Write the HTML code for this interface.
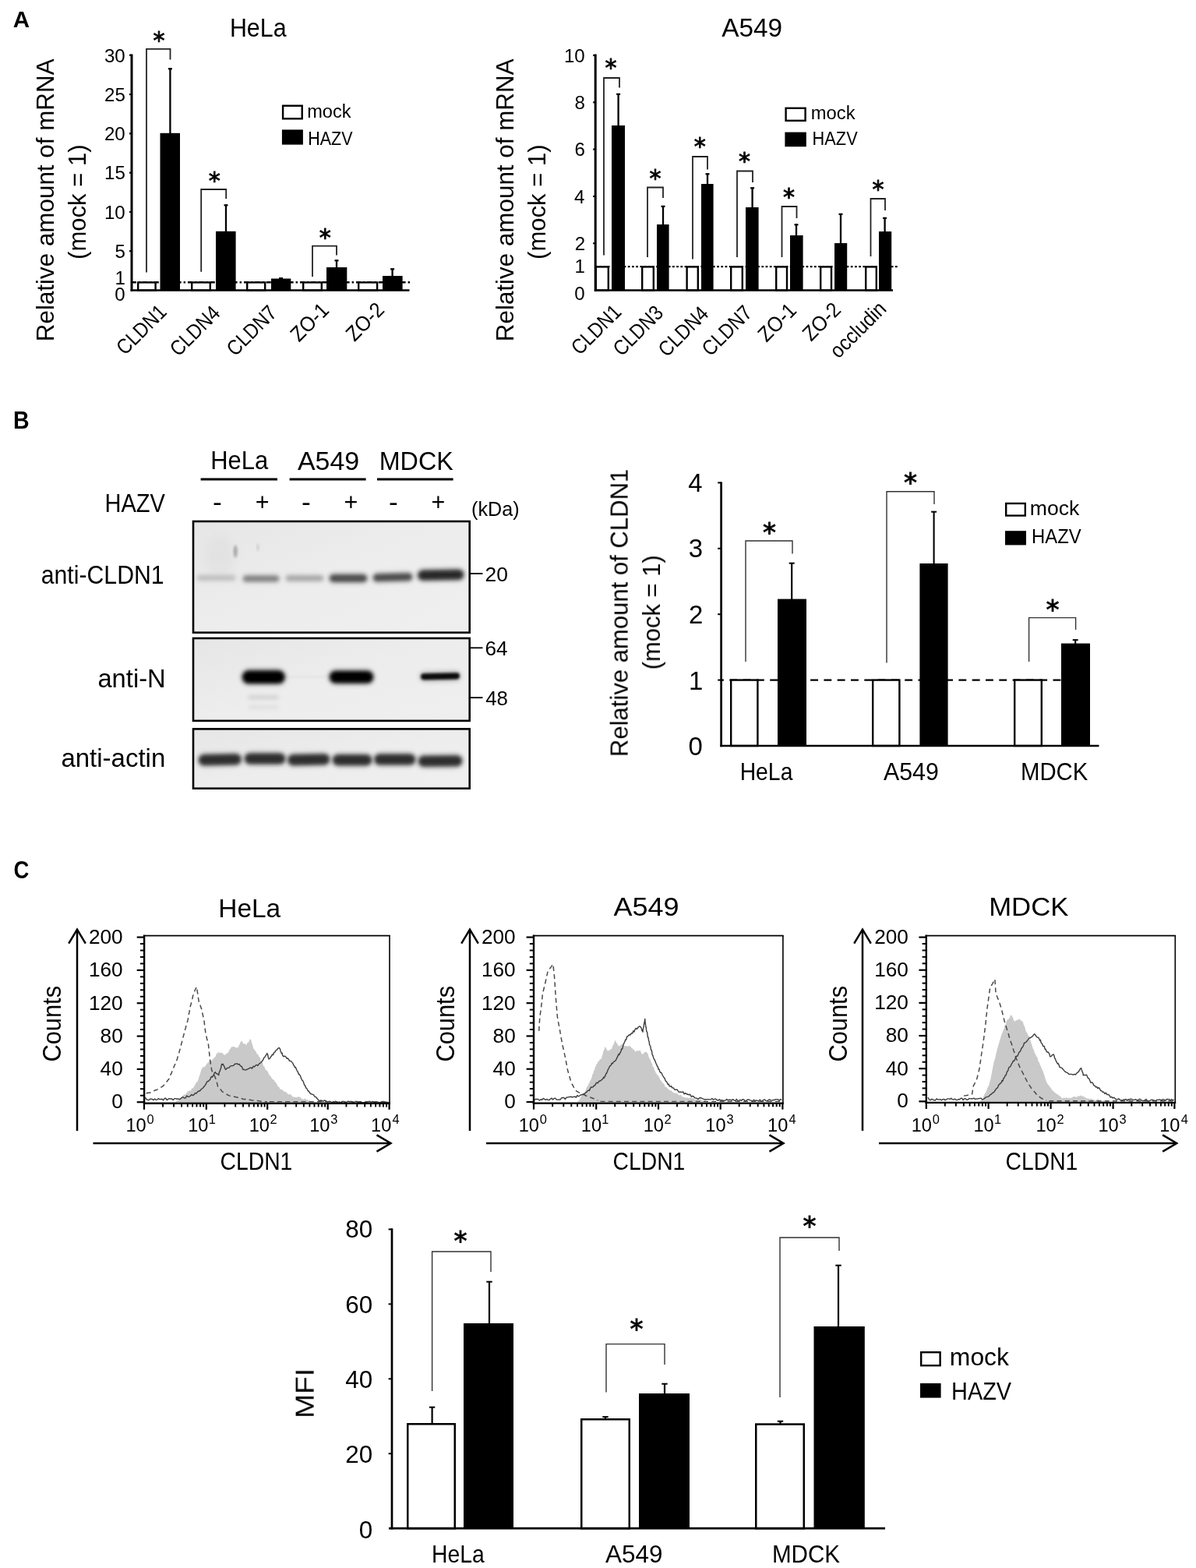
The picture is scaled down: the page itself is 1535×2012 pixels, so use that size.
<!DOCTYPE html>
<html lang="en"><head><meta charset="utf-8"><title>Figure</title>
<style>
html,body{margin:0;padding:0;background:#fff;}
svg{display:block;font-family:"Liberation Sans",sans-serif;}
</style></head>
<body>
<svg width="1535" height="2012" viewBox="0 0 1535 2012">
<defs><filter id="soft" x="0" y="0" width="1535" height="2012" filterUnits="userSpaceOnUse"><feGaussianBlur stdDeviation="0.55"/></filter></defs>
<rect width="1535" height="2012" fill="#fff"/>
<g filter="url(#soft)">
<text transform="translate(16.66 34.7) scale(0.9851 1)" font-size="30" font-weight="bold">A</text>
<text transform="translate(17.07 549.5) scale(0.9261 1)" font-size="30.8" font-weight="bold">B</text>
<text transform="translate(17.5 1126.8) scale(0.9010 1)" font-size="30.5" font-weight="bold">C</text>
<text transform="translate(294.89 47.4) scale(0.9163 1)" font-size="33.2">HeLa</text>
<text transform="translate(69.2 438.19) rotate(-90) scale(0.9965 1)" font-size="31.5">Relative amount of mRNA</text>
<text transform="translate(110.2 332.94) rotate(-90) scale(0.9870 1)" font-size="31.5">(mock = 1)</text>
<line x1="169" y1="362.24" x2="526" y2="362.24" stroke="#000" stroke-width="2.4" stroke-dasharray="6 3 2.4 3"/>
<rect x="177.2" y="362.4" width="22.4" height="10.1" fill="#fff" stroke="#000" stroke-width="2.4"/>
<rect x="205.5" y="170.8" width="25.5" height="201.7" fill="#000"/>
<line x1="218.4" y1="87.5" x2="218.4" y2="171.8" stroke="#000" stroke-width="2.3"/>
<line x1="215.9" y1="88.3" x2="220.9" y2="88.3" stroke="#000" stroke-width="2.2"/>
<rect x="246.2" y="362.4" width="23.6" height="10.1" fill="#fff" stroke="#000" stroke-width="2.4"/>
<rect x="277" y="296.8" width="25.6" height="75.7" fill="#000"/>
<line x1="290" y1="262.5" x2="290" y2="297.8" stroke="#000" stroke-width="2.3"/>
<line x1="287.5" y1="263.3" x2="292.5" y2="263.3" stroke="#000" stroke-width="2.2"/>
<rect x="317.2" y="362.4" width="23" height="10.1" fill="#fff" stroke="#000" stroke-width="2.4"/>
<rect x="348" y="357.5" width="25.3" height="15" fill="#000"/>
<line x1="360.5" y1="356.3" x2="360.5" y2="358.5" stroke="#000" stroke-width="2.3"/>
<line x1="358" y1="357.1" x2="363" y2="357.1" stroke="#000" stroke-width="2.2"/>
<rect x="389.2" y="362.4" width="23.6" height="10.1" fill="#fff" stroke="#000" stroke-width="2.4"/>
<rect x="419" y="343" width="26.3" height="29.5" fill="#000"/>
<line x1="432" y1="333.5" x2="432" y2="344" stroke="#000" stroke-width="2.3"/>
<line x1="429.5" y1="334.3" x2="434.5" y2="334.3" stroke="#000" stroke-width="2.2"/>
<rect x="460.2" y="362.4" width="23.9" height="10.1" fill="#fff" stroke="#000" stroke-width="2.4"/>
<rect x="491" y="354" width="25.6" height="18.5" fill="#000"/>
<line x1="503.6" y1="344.5" x2="503.6" y2="355" stroke="#000" stroke-width="2.3"/>
<line x1="501.1" y1="345.3" x2="506.1" y2="345.3" stroke="#000" stroke-width="2.2"/>
<line x1="169" y1="69.6" x2="169" y2="373.7" stroke="#000" stroke-width="3"/>
<line x1="167.7" y1="372.5" x2="525.5" y2="372.5" stroke="#000" stroke-width="2.6"/>
<line x1="166" y1="70.8" x2="169" y2="70.8" stroke="#000" stroke-width="2.2"/>
<line x1="166" y1="121.08" x2="169" y2="121.08" stroke="#000" stroke-width="2.2"/>
<line x1="166" y1="171.37" x2="169" y2="171.37" stroke="#000" stroke-width="2.2"/>
<line x1="166" y1="221.65" x2="169" y2="221.65" stroke="#000" stroke-width="2.2"/>
<line x1="166" y1="271.93" x2="169" y2="271.93" stroke="#000" stroke-width="2.2"/>
<line x1="166" y1="322.22" x2="169" y2="322.22" stroke="#000" stroke-width="2.2"/>
<text transform="translate(133.94 79.6) scale(0.9800 1)" font-size="24.6">30</text>
<text transform="translate(134 129.88) scale(0.9800 1)" font-size="24.6">25</text>
<text transform="translate(133.94 180.17) scale(0.9800 1)" font-size="24.6">20</text>
<text transform="translate(134 230.45) scale(0.9800 1)" font-size="24.6">15</text>
<text transform="translate(133.94 280.73) scale(0.9800 1)" font-size="24.6">10</text>
<text transform="translate(147.38 331.02) scale(0.9800 1)" font-size="24.6">5</text>
<text transform="translate(147.57 365) scale(0.9800 1)" font-size="24.6">1</text>
<text transform="translate(147.32 386.4) scale(0.9800 1)" font-size="24.6">0</text>
<path d="M188 349.5V62.8H218.5V76.5" fill="none" stroke="#222" stroke-width="1.8"/>
<text transform="translate(196.5 62.25)" font-size="30" font-family="DejaVu Sans" stroke="#000" stroke-width="0.9">*</text>
<path d="M258.2 348.8V243H290.2V255" fill="none" stroke="#222" stroke-width="1.8"/>
<text transform="translate(267.7 242.25)" font-size="30" font-family="DejaVu Sans" stroke="#000" stroke-width="0.9">*</text>
<path d="M401 355V315.6H432V327.5" fill="none" stroke="#222" stroke-width="1.8"/>
<text transform="translate(409.7 315.45)" font-size="30" font-family="DejaVu Sans" stroke="#000" stroke-width="0.9">*</text>
<rect x="363.1" y="135.7" width="24.6" height="16.6" fill="#fff" stroke="#000" stroke-width="2.4"/>
<rect x="361.9" y="166.4" width="27" height="19.2" fill="#000"/>
<text transform="translate(394.21 151) scale(0.9670 1)" font-size="24.4">mock</text>
<text transform="translate(395.23 185.6) scale(0.8800 1)" font-size="24.4">HAZV</text>
<text transform="translate(160.33 456.87) rotate(-45) scale(0.8800 1)" font-size="27">CLDN1</text>
<text transform="translate(228.9 458.6) rotate(-45) scale(0.8800 1)" font-size="27">CLDN4</text>
<text transform="translate(301.78 458.22) rotate(-45) scale(0.8800 1)" font-size="27">CLDN7</text>
<text transform="translate(383.83 439.77) rotate(-45) scale(0.9200 1)" font-size="27">ZO-1</text>
<text transform="translate(454.88 439.32) rotate(-45) scale(0.9200 1)" font-size="27">ZO-2</text>
<text transform="translate(926.22 47) scale(1.0060 1)" font-size="33.2">A549</text>
<text transform="translate(659.2 438.19) rotate(-90) scale(0.9965 1)" font-size="31.5">Relative amount of mRNA</text>
<text transform="translate(700.2 332.94) rotate(-90) scale(0.9870 1)" font-size="31.5">(mock = 1)</text>
<line x1="764.2" y1="342.15" x2="1153" y2="342.15" stroke="#000" stroke-width="2.4" stroke-dasharray="2.7 2.5"/>
<rect x="764.8" y="342.4" width="16" height="30.1" fill="#fff" stroke="#000" stroke-width="2.4"/>
<rect x="785" y="161" width="17" height="211.5" fill="#000"/>
<line x1="793.6" y1="120" x2="793.6" y2="162" stroke="#000" stroke-width="2.3"/>
<line x1="791.1" y1="120.8" x2="796.1" y2="120.8" stroke="#000" stroke-width="2.2"/>
<rect x="824.2" y="342.4" width="14.6" height="30.1" fill="#fff" stroke="#000" stroke-width="2.4"/>
<rect x="843" y="288" width="15.6" height="84.5" fill="#000"/>
<line x1="851" y1="264" x2="851" y2="289" stroke="#000" stroke-width="2.3"/>
<line x1="848.5" y1="264.8" x2="853.5" y2="264.8" stroke="#000" stroke-width="2.2"/>
<rect x="881.6" y="342.4" width="14.2" height="30.1" fill="#fff" stroke="#000" stroke-width="2.4"/>
<rect x="900" y="236" width="15.6" height="136.5" fill="#000"/>
<line x1="908" y1="222.5" x2="908" y2="237" stroke="#000" stroke-width="2.3"/>
<line x1="905.5" y1="223.3" x2="910.5" y2="223.3" stroke="#000" stroke-width="2.2"/>
<rect x="938.2" y="342.4" width="14.6" height="30.1" fill="#fff" stroke="#000" stroke-width="2.4"/>
<rect x="957" y="266" width="16.6" height="106.5" fill="#000"/>
<line x1="965.6" y1="240.5" x2="965.6" y2="267" stroke="#000" stroke-width="2.3"/>
<line x1="963.1" y1="241.3" x2="968.1" y2="241.3" stroke="#000" stroke-width="2.2"/>
<rect x="996.2" y="342.4" width="13.8" height="30.1" fill="#fff" stroke="#000" stroke-width="2.4"/>
<rect x="1014" y="302" width="16.6" height="70.5" fill="#000"/>
<line x1="1022" y1="287.5" x2="1022" y2="303" stroke="#000" stroke-width="2.3"/>
<line x1="1019.5" y1="288.3" x2="1024.5" y2="288.3" stroke="#000" stroke-width="2.2"/>
<rect x="1053.2" y="342.4" width="13.8" height="30.1" fill="#fff" stroke="#000" stroke-width="2.4"/>
<rect x="1071" y="312" width="16.2" height="60.5" fill="#000"/>
<line x1="1079" y1="274" x2="1079" y2="313" stroke="#000" stroke-width="2.3"/>
<line x1="1076.5" y1="274.8" x2="1081.5" y2="274.8" stroke="#000" stroke-width="2.2"/>
<rect x="1111.2" y="342.4" width="13.6" height="30.1" fill="#fff" stroke="#000" stroke-width="2.4"/>
<rect x="1128" y="297" width="16.2" height="75.5" fill="#000"/>
<line x1="1135.6" y1="279" x2="1135.6" y2="298" stroke="#000" stroke-width="2.3"/>
<line x1="1133.1" y1="279.8" x2="1138.1" y2="279.8" stroke="#000" stroke-width="2.2"/>
<line x1="764.2" y1="69.6" x2="764.2" y2="373.7" stroke="#000" stroke-width="3"/>
<line x1="762.9" y1="372.5" x2="1146" y2="372.5" stroke="#000" stroke-width="2.6"/>
<line x1="761.2" y1="71" x2="764.2" y2="71" stroke="#000" stroke-width="2.2"/>
<line x1="761.2" y1="131.3" x2="764.2" y2="131.3" stroke="#000" stroke-width="2.2"/>
<line x1="761.2" y1="191.6" x2="764.2" y2="191.6" stroke="#000" stroke-width="2.2"/>
<line x1="761.2" y1="251.9" x2="764.2" y2="251.9" stroke="#000" stroke-width="2.2"/>
<line x1="761.2" y1="312.2" x2="764.2" y2="312.2" stroke="#000" stroke-width="2.2"/>
<text transform="translate(723.94 79.8) scale(0.9800 1)" font-size="24.6">10</text>
<text transform="translate(737.44 140.1) scale(0.9800 1)" font-size="24.6">8</text>
<text transform="translate(737.44 200.4) scale(0.9800 1)" font-size="24.6">6</text>
<text transform="translate(737.08 260.7) scale(0.9800 1)" font-size="24.6">4</text>
<text transform="translate(737.63 321) scale(0.9800 1)" font-size="24.6">2</text>
<text transform="translate(737.57 350) scale(0.9800 1)" font-size="24.6">1</text>
<text transform="translate(737.32 385.4) scale(0.9800 1)" font-size="24.6">0</text>
<path d="M775 327.5V100H795V112.5" fill="none" stroke="#222" stroke-width="1.8"/>
<text transform="translate(776.5 96.95)" font-size="30" font-family="DejaVu Sans" stroke="#000" stroke-width="0.9">*</text>
<path d="M831 330V240.5H851V254" fill="none" stroke="#222" stroke-width="1.8"/>
<text transform="translate(833.5 238.95)" font-size="30" font-family="DejaVu Sans" stroke="#000" stroke-width="0.9">*</text>
<path d="M889 332.5V201H908V217.5" fill="none" stroke="#222" stroke-width="1.8"/>
<text transform="translate(890.7 198.45)" font-size="30" font-family="DejaVu Sans" stroke="#000" stroke-width="0.9">*</text>
<path d="M946 330V219.5H966V234" fill="none" stroke="#222" stroke-width="1.8"/>
<text transform="translate(948.1 216.95)" font-size="30" font-family="DejaVu Sans" stroke="#000" stroke-width="0.9">*</text>
<path d="M1003.5 330V265H1022.5V280" fill="none" stroke="#222" stroke-width="1.8"/>
<text transform="translate(1005.1 263.45)" font-size="30" font-family="DejaVu Sans" stroke="#000" stroke-width="0.9">*</text>
<path d="M1117.5 329V255H1136V270" fill="none" stroke="#222" stroke-width="1.8"/>
<text transform="translate(1119.5 252.95)" font-size="30" font-family="DejaVu Sans" stroke="#000" stroke-width="0.9">*</text>
<rect x="1008.6" y="138.8" width="25" height="16" fill="#fff" stroke="#000" stroke-width="2.4"/>
<rect x="1007.4" y="169.6" width="27.4" height="18.6" fill="#000"/>
<text transform="translate(1040.8 153.2) scale(0.9741 1)" font-size="24.4">mock</text>
<text transform="translate(1042.6 185.8) scale(0.8927 1)" font-size="24.4">HAZV</text>
<text transform="translate(743.93 456.87) rotate(-45) scale(0.8800 1)" font-size="27">CLDN1</text>
<text transform="translate(797.65 458.35) rotate(-45) scale(0.8800 1)" font-size="27">CLDN3</text>
<text transform="translate(855.8 459.2) rotate(-45) scale(0.8800 1)" font-size="27">CLDN4</text>
<text transform="translate(911.78 458.22) rotate(-45) scale(0.8800 1)" font-size="27">CLDN7</text>
<text transform="translate(983.83 439.97) rotate(-45) scale(0.9200 1)" font-size="27">ZO-1</text>
<text transform="translate(1040.88 439.12) rotate(-45) scale(0.9200 1)" font-size="27">ZO-2</text>
<text transform="translate(1076.1 460.9) rotate(-45) scale(0.9000 1)" font-size="27">occludin</text>
<defs><filter id="b1" x="-30%" y="-150%" width="160%" height="400%"><feGaussianBlur stdDeviation="1.7"/></filter><filter id="b2" x="-30%" y="-150%" width="160%" height="400%"><feGaussianBlur stdDeviation="2.6"/></filter><filter id="b3" x="-50%" y="-50%" width="200%" height="200%"><feGaussianBlur stdDeviation="6"/></filter><filter id="b4" x="-30%" y="-150%" width="160%" height="400%"><feGaussianBlur stdDeviation="3.6"/></filter><linearGradient id="bg1" x1="0" y1="0" x2="1" y2="1"><stop offset="0" stop-color="#e6e6e6"/><stop offset="0.5" stop-color="#ededed"/><stop offset="1" stop-color="#efefef"/></linearGradient><clipPath id="c1"><rect x="248" y="669" width="354.8" height="143"/></clipPath><clipPath id="c2"><rect x="248" y="819" width="354.8" height="106"/></clipPath><clipPath id="c3"><rect x="248" y="935.4" width="354.8" height="76.4"/></clipPath></defs>
<rect x="248" y="669" width="354.7" height="142.7" fill="url(#bg1)"/>
<rect x="248" y="819" width="354.7" height="105.9" fill="url(#bg1)"/>
<rect x="248" y="935.4" width="354.7" height="76.3" fill="url(#bg1)"/>
<g clip-path="url(#c1)">
<rect x="252" y="736.65" width="51" height="9.5" rx="4.75" ry="4.75" fill="#8a8a8a" opacity="0.11" filter="url(#b4)"/>
<rect x="253" y="738.15" width="49" height="6.5" rx="3.25" ry="3.25" fill="#8a8a8a" opacity="0.4" filter="url(#b2)"/>
<rect x="311" y="737.35" width="48" height="10.5" rx="5.25" ry="5.25" fill="#4a4a4a" opacity="0.17" filter="url(#b4)"/>
<rect x="312" y="738.85" width="46" height="7.5" rx="3.75" ry="3.75" fill="#4a4a4a" opacity="0.6" filter="url(#b2)"/>
<rect x="366" y="737" width="50" height="10" rx="5" ry="5" fill="#6a6a6a" opacity="0.13" filter="url(#b4)"/>
<rect x="367" y="738.5" width="48" height="7" rx="3.5" ry="3.5" fill="#6a6a6a" opacity="0.48" filter="url(#b2)"/>
<rect x="422" y="735.75" width="50" height="12.5" rx="6.25" ry="6.25" fill="#333" opacity="0.23" filter="url(#b4)"/>
<rect x="423" y="737.25" width="48" height="9.5" rx="4.75" ry="4.75" fill="#333" opacity="0.82" filter="url(#b2)"/>
<rect x="478" y="734.55" width="52" height="12.5" rx="6.25" ry="6.25" fill="#333" opacity="0.23" filter="url(#b4)" transform="rotate(-1.5 504 740.8)"/>
<rect x="479" y="736.05" width="50" height="9.5" rx="4.75" ry="4.75" fill="#333" opacity="0.82" filter="url(#b2)" transform="rotate(-1.5 504 740.8)"/>
<rect x="535.5" y="730.05" width="60.5" height="15.5" rx="7.75" ry="7.75" fill="#1c1c1c" opacity="0.26" filter="url(#b4)" transform="rotate(-1 565.75 737.8)"/>
<rect x="536.5" y="731.55" width="58.5" height="12.5" rx="6.25" ry="6.25" fill="#1c1c1c" opacity="0.93" filter="url(#b2)" transform="rotate(-1 565.75 737.8)"/>
<ellipse cx="302.2" cy="707.6" rx="2.6" ry="8" fill="#6a6a6a" opacity="0.5" filter="url(#b1)"/>
<ellipse cx="331" cy="702.5" rx="1.8" ry="5" fill="#999" opacity="0.3" filter="url(#b1)"/>
<ellipse cx="282" cy="714" rx="20" ry="26" fill="#c4c4c4" opacity="0.16" filter="url(#b3)"/>
</g>
<g clip-path="url(#c2)">
<rect x="310" y="859.05" width="56.5" height="19.5" rx="9.75" ry="9.75" fill="#050505" opacity="0.28" filter="url(#b4)"/>
<rect x="311" y="860.55" width="54.5" height="16.5" rx="8.25" ry="8.25" fill="#050505" opacity="1" filter="url(#b2)"/>
<rect x="422" y="859.55" width="58" height="18.5" rx="9.25" ry="9.25" fill="#050505" opacity="0.28" filter="url(#b4)"/>
<rect x="423" y="861.05" width="56" height="15.5" rx="7.75" ry="7.75" fill="#050505" opacity="1" filter="url(#b2)"/>
<rect x="539" y="862.2" width="52" height="11.2" rx="5.6" ry="5.6" fill="#0a0a0a" opacity="0.28" filter="url(#b4)" transform="rotate(-1.2 565 867.8)"/>
<rect x="540" y="863.7" width="50" height="8.2" rx="4.1" ry="4.1" fill="#0a0a0a" opacity="1" filter="url(#b1)" transform="rotate(-1.2 565 867.8)"/>
<rect x="368" y="867.1" width="54" height="3" rx="1.5" ry="1.5" fill="#bbb" opacity="0.15" filter="url(#b1)"/>
<rect x="318" y="892.05" width="40" height="5.5" rx="2.75" ry="2.75" fill="#999" opacity="0.3" filter="url(#b2)"/>
<rect x="318" y="904.85" width="40" height="5.5" rx="2.75" ry="2.75" fill="#aaa" opacity="0.2" filter="url(#b2)"/>
</g>
<g clip-path="url(#c3)">
<rect x="254" y="966.55" width="56.5" height="16.5" rx="8.25" ry="8.25" fill="#262626" opacity="0.27" filter="url(#b4)" transform="rotate(-1.2 282.25 974.8)"/>
<rect x="255" y="968.05" width="54.5" height="13.5" rx="6.75" ry="6.75" fill="#262626" opacity="0.95" filter="url(#b2)" transform="rotate(-1.2 282.25 974.8)"/>
<rect x="313" y="965.15" width="54" height="16.5" rx="8.25" ry="8.25" fill="#262626" opacity="0.27" filter="url(#b4)"/>
<rect x="314" y="966.65" width="52" height="13.5" rx="6.75" ry="6.75" fill="#262626" opacity="0.95" filter="url(#b2)"/>
<rect x="368.4" y="966.55" width="55.6" height="16.5" rx="8.25" ry="8.25" fill="#262626" opacity="0.27" filter="url(#b4)" transform="rotate(-1.2 396.2 974.8)"/>
<rect x="369.4" y="968.05" width="53.6" height="13.5" rx="6.75" ry="6.75" fill="#262626" opacity="0.95" filter="url(#b2)" transform="rotate(-1.2 396.2 974.8)"/>
<rect x="426" y="966.95" width="52" height="16.5" rx="8.25" ry="8.25" fill="#262626" opacity="0.27" filter="url(#b4)"/>
<rect x="427" y="968.45" width="50" height="13.5" rx="6.75" ry="6.75" fill="#262626" opacity="0.95" filter="url(#b2)"/>
<rect x="479.5" y="966.35" width="54.5" height="16.5" rx="8.25" ry="8.25" fill="#262626" opacity="0.27" filter="url(#b4)"/>
<rect x="480.5" y="967.85" width="52.5" height="13.5" rx="6.75" ry="6.75" fill="#262626" opacity="0.95" filter="url(#b2)"/>
<rect x="536" y="968.15" width="58" height="16.5" rx="8.25" ry="8.25" fill="#262626" opacity="0.27" filter="url(#b4)" transform="rotate(-0.6 565 976.4)"/>
<rect x="537" y="969.65" width="56" height="13.5" rx="6.75" ry="6.75" fill="#262626" opacity="0.95" filter="url(#b2)" transform="rotate(-0.6 565 976.4)"/>
</g>
<rect x="248" y="669" width="354.7" height="142.7" fill="none" stroke="#000" stroke-width="2.6"/>
<rect x="248" y="819" width="354.7" height="105.9" fill="none" stroke="#000" stroke-width="2.6"/>
<rect x="248" y="935.4" width="354.7" height="76.3" fill="none" stroke="#000" stroke-width="2.6"/>
<line x1="603.5" y1="736" x2="619.5" y2="736" stroke="#000" stroke-width="1.8"/>
<line x1="603.5" y1="831.3" x2="619.5" y2="831.3" stroke="#000" stroke-width="1.8"/>
<line x1="603.5" y1="895.2" x2="619.5" y2="895.2" stroke="#000" stroke-width="1.8"/>
<text transform="translate(622.48 745.6) scale(1.0156 1)" font-size="26">20</text>
<text transform="translate(622.49 840.7) scale(1.0058 1)" font-size="26">64</text>
<text transform="translate(623.22 905.1) scale(0.9937 1)" font-size="26">48</text>
<text transform="translate(270.25 602.4) scale(0.9320 1)" font-size="33.2">HeLa</text>
<text transform="translate(381.92 602.6) scale(1.0280 1)" font-size="33">A549</text>
<text transform="translate(486.74 602.6) scale(0.9782 1)" font-size="33">MDCK</text>
<line x1="257.6" y1="615" x2="356" y2="615" stroke="#000" stroke-width="2.8"/>
<line x1="371.6" y1="615" x2="469.6" y2="615" stroke="#000" stroke-width="2.8"/>
<line x1="484" y1="615" x2="581.6" y2="615" stroke="#000" stroke-width="2.8"/>
<text transform="translate(134.4 656.6) scale(0.8917 1)" font-size="32.6">HAZV</text>
<text transform="translate(273.1 655.6) scale(1.0747 1)" font-size="33">-</text>
<text transform="translate(387.1 655.6) scale(1.0747 1)" font-size="33">-</text>
<text transform="translate(499.1 655.6) scale(1.0747 1)" font-size="33">-</text>
<text transform="translate(327.87 654.6)" font-size="30.5">+</text>
<text transform="translate(441.47 654.6)" font-size="30.5">+</text>
<text transform="translate(553.47 654.6)" font-size="30.5">+</text>
<text transform="translate(605.03 662) scale(0.9535 1)" font-size="26.4">(kDa)</text>
<text transform="translate(52.71 749.2) scale(0.9333 1)" font-size="32.4">anti-CLDN1</text>
<text transform="translate(125.41 882.2) scale(1.0100 1)" font-size="32.4">anti-N</text>
<text transform="translate(78.4 983.6) scale(1.0189 1)" font-size="32.4">anti-actin</text>
<text transform="translate(805.6 971.16) rotate(-90) scale(1.0024 1)" font-size="31">Relative amount of CLDN1</text>
<text transform="translate(847 859.34) rotate(-90) scale(0.9988 1)" font-size="31">(mock = 1)</text>
<line x1="925.6" y1="872.6" x2="1401.6" y2="872.6" stroke="#000" stroke-width="2.3" stroke-dasharray="9.9 7.4" stroke-dashoffset="-10.7"/>
<rect x="938.2" y="872.6" width="34.2" height="84.4" fill="#fff" stroke="#000" stroke-width="2.4"/>
<rect x="998" y="768.6" width="37" height="188.4" fill="#000"/>
<line x1="1016.2" y1="722" x2="1016.2" y2="769.6" stroke="#000" stroke-width="2.1"/>
<line x1="1012.7" y1="722.7" x2="1019.7" y2="722.7" stroke="#000" stroke-width="2"/>
<rect x="1120.2" y="872.6" width="34.2" height="84.4" fill="#fff" stroke="#000" stroke-width="2.4"/>
<rect x="1180.4" y="723" width="36.2" height="234" fill="#000"/>
<line x1="1198.6" y1="656" x2="1198.6" y2="724" stroke="#000" stroke-width="2.1"/>
<line x1="1195.1" y1="656.7" x2="1202.1" y2="656.7" stroke="#000" stroke-width="2"/>
<rect x="1302.2" y="872.6" width="34.6" height="84.4" fill="#fff" stroke="#000" stroke-width="2.4"/>
<rect x="1362" y="825.6" width="37" height="131.4" fill="#000"/>
<line x1="1380.2" y1="820.5" x2="1380.2" y2="826.6" stroke="#000" stroke-width="2.1"/>
<line x1="1376.7" y1="821.2" x2="1383.7" y2="821.2" stroke="#000" stroke-width="2"/>
<line x1="925.6" y1="618.4" x2="925.6" y2="958.3" stroke="#000" stroke-width="2.7"/>
<line x1="924.3" y1="957" x2="1410.5" y2="957" stroke="#000" stroke-width="2.6"/>
<line x1="921.2" y1="619.4" x2="925.6" y2="619.4" stroke="#000" stroke-width="2"/>
<line x1="921.2" y1="703.8" x2="925.6" y2="703.8" stroke="#000" stroke-width="2"/>
<line x1="921.2" y1="788.2" x2="925.6" y2="788.2" stroke="#000" stroke-width="2"/>
<line x1="921.2" y1="872.6" x2="925.6" y2="872.6" stroke="#000" stroke-width="2"/>
<text transform="translate(883.23 631) scale(0.9800 1)" font-size="33.6">4</text>
<text transform="translate(883.72 715.4) scale(0.9800 1)" font-size="33.6">3</text>
<text transform="translate(883.97 799.8) scale(0.9800 1)" font-size="33.6">2</text>
<text transform="translate(883.89 884.8) scale(0.9800 1)" font-size="33.6">1</text>
<text transform="translate(883.56 969.2) scale(0.9800 1)" font-size="33.6">0</text>
<path d="M957 849V694H1017V710.5" fill="none" stroke="#333" stroke-width="1.4"/>
<text transform="translate(979.1 695.11)" font-size="34" font-family="DejaVu Sans" stroke="#000" stroke-width="0.9">*</text>
<path d="M1138 850.5V630.8H1199V647" fill="none" stroke="#333" stroke-width="1.4"/>
<text transform="translate(1160.1 630.91)" font-size="34" font-family="DejaVu Sans" stroke="#000" stroke-width="0.9">*</text>
<path d="M1320.6 849V792.6H1380.6V808" fill="none" stroke="#333" stroke-width="1.4"/>
<text transform="translate(1342.5 793.51)" font-size="34" font-family="DejaVu Sans" stroke="#000" stroke-width="0.9">*</text>
<rect x="1291.2" y="646" width="24.6" height="15.6" fill="#fff" stroke="#000" stroke-width="2.4"/>
<rect x="1290" y="681.2" width="27" height="18.2" fill="#000"/>
<text transform="translate(1321.8 661.4)" font-size="26.6">mock</text>
<text transform="translate(1324.03 696.6) scale(0.8976 1)" font-size="26.6">HAZV</text>
<text transform="translate(949.66 1001.2) scale(0.8969 1)" font-size="31.6">HeLa</text>
<text transform="translate(1133.92 1001.2) scale(0.9601 1)" font-size="31.6">A549</text>
<text transform="translate(1309.98 1001.2) scale(0.9283 1)" font-size="31.6">MDCK</text>
<path d="M225.37 1414.14 L226.85 1412.77 L228.32 1411.78 L229.8 1411.39 L231.13 1409.19 L232.46 1408.18 L233.79 1407.26 L235.12 1405.19 L236.45 1404.87 L237.71 1404.2 L238.98 1403.64 L240.24 1401.02 L241.51 1400.57 L242.77 1399.11 L244.04 1399.89 L245.3 1398.66 L246.29 1395.86 L247.27 1396.89 L248.26 1395.62 L249.24 1393.64 L250.23 1392.32 L251.21 1389.99 L252.2 1388.42 L253.18 1388.42 L254.16 1386.06 L254.61 1384.83 L255.05 1383.4 L255.49 1381.34 L255.94 1380.83 L256.38 1379.23 L256.82 1378.64 L257.26 1376.31 L257.71 1375.05 L258.15 1373.17 L258.59 1372.01 L259.7 1370.41 L260.81 1368.87 L261.92 1369.49 L263.02 1368.38 L264.13 1366.9 L265.24 1365.47 L266.57 1363.64 L267.9 1362.55 L269.22 1361.81 L270.55 1360.4 L271.88 1361.18 L272.87 1359.07 L273.85 1358.91 L274.84 1356.58 L275.82 1356.72 L276.8 1355.22 L277.79 1351.96 L278.77 1351.23 L279.76 1351.68 L280.74 1349.4 L282.22 1351.36 L283.7 1350.7 L285.17 1350.66 L286.65 1352.73 L288.12 1353.83 L289.6 1353.35 L290.59 1351.68 L291.57 1351.04 L292.55 1351.32 L293.54 1349.6 L294.52 1346.83 L295.51 1345.91 L296.49 1344.33 L297.48 1343 L298.46 1343.54 L300.12 1342.6 L301.78 1344.07 L303.44 1344.36 L305.11 1344.3 L305.84 1344.12 L306.58 1341.2 L307.32 1340.95 L308.06 1338.21 L308.8 1337.47 L309.53 1335.49 L310.86 1336.51 L312.19 1339.08 L313.52 1339.57 L314.85 1339.25 L316.18 1341.53 L317.1 1338.62 L318.03 1337.77 L318.95 1337.58 L319.87 1335.78 L320.79 1333.19 L321.72 1334.03 L322.13 1333.69 L322.55 1335.32 L322.96 1338.08 L323.38 1338.54 L323.79 1339.98 L324.21 1340.97 L324.62 1342.53 L325.04 1345.24 L325.99 1345.69 L326.94 1347.81 L327.89 1348.53 L328.84 1349.99 L329.78 1352.47 L330.73 1352.59 L331.68 1354.08 L332.42 1356.25 L333.16 1356.09 L333.9 1357.5 L334.64 1360.78 L335.37 1362.04 L336.11 1362.16 L336.85 1363.49 L337.59 1366.29 L338.33 1368.24 L339.16 1367.84 L339.99 1371.04 L340.82 1372.26 L341.65 1372.97 L342.48 1373.92 L343.31 1374.54 L344.14 1375.77 L344.97 1379.37 L345.96 1378.86 L346.94 1381.21 L347.93 1381.37 L348.91 1383.96 L349.89 1384.65 L350.88 1385.15 L351.86 1386.1 L352.85 1388.63 L353.83 1388.3 L354.78 1389.95 L355.73 1392.01 L356.68 1393.98 L357.63 1394.67 L358.58 1395.14 L359.53 1397.93 L360.48 1397.48 L361.95 1397.96 L363.43 1399.49 L364.91 1400.83 L366.38 1400.83 L367.86 1402.03 L369.34 1403.42 L370.81 1404.46 L372.29 1403.96 L373.77 1405.06 L375.24 1406.89 L376.72 1407.65 L378.19 1407.43 L379.67 1407.88 L381.15 1408 L382.62 1407.3 L384.1 1407.42 L385.58 1407.74 L387.05 1410.25 L388.53 1410.12 L390.01 1411.12 L391.48 1409.23 L393.07 1411.18 L394.65 1411.28 L396.23 1412.35 L397.81 1411.84 L399.39 1413.95 L400.98 1412.2 L402.56 1413.81 L404.77 1414.14 Z" fill="#c9c9c9" stroke="none"/>
<path d="M187.72 1403.07 L189.93 1402.28 L192.15 1402.19 L194.36 1401.63 L196.58 1400.39 L198.79 1399.08 L201.01 1398.43 L203.22 1397.33 L205.44 1395.84 L207.65 1394.58 L209.87 1393.11 L211.2 1391.24 L212.52 1389.85 L213.85 1388.34 L215.18 1386.24 L216.51 1385.14 L217.34 1382.75 L218.17 1380.82 L219 1378.73 L219.83 1377.55 L220.66 1375.41 L221.5 1373.58 L222.33 1371.43 L223.16 1369.03 L224.04 1367.05 L224.93 1364.97 L225.81 1362.45 L226.7 1360.9 L227.59 1358.22 L228.14 1356.11 L228.69 1354.71 L229.25 1352.21 L229.8 1350.92 L230.35 1348.6 L230.91 1346.74 L231.46 1344.64 L232.02 1342.81 L232.51 1340.6 L233 1338.52 L233.49 1337.21 L233.98 1334.74 L234.48 1333.2 L234.97 1330.78 L235.46 1329.42 L235.95 1327.39 L236.45 1325.31 L237 1323.38 L237.55 1321.29 L238.11 1319.48 L238.66 1317.05 L239.21 1315.4 L239.77 1313.74 L240.32 1311.3 L240.87 1309.94 L241.24 1307.94 L241.61 1305.59 L241.98 1303.59 L242.35 1301.69 L242.72 1299.67 L243.09 1298.18 L243.46 1295.73 L243.83 1293.47 L244.2 1291.56 L244.69 1290.09 L245.18 1288.34 L245.67 1285.97 L246.17 1284 L246.66 1282.08 L247.15 1280.27 L247.64 1277.88 L248.13 1276.22 L248.63 1274.21 L249.57 1272.32 L250.51 1270.03 L251.45 1268.09 L252.39 1266.29 L252.71 1268.85 L253.03 1270.47 L253.35 1272.77 L253.67 1274.62 L253.99 1276.55 L254.31 1278.62 L254.63 1281.31 L254.95 1283.37 L255.27 1285.14 L256.1 1287.6 L256.93 1289.81 L257.76 1292.2 L258.59 1294.46 L259.07 1296.24 L259.54 1298.92 L260.02 1301.11 L260.49 1303.03 L260.97 1305.48 L261.44 1307.38 L261.92 1309.5 L262.19 1311.61 L262.47 1314.33 L262.75 1315.98 L263.02 1318.12 L263.3 1320.92 L263.58 1323.11 L263.85 1325.09 L264.13 1327.59 L264.68 1329.18 L265.24 1331.56 L265.79 1333.8 L266.35 1336.12 L266.9 1338.13 L267.45 1340.26 L267.67 1342.47 L267.9 1344.92 L268.12 1346.98 L268.34 1348.78 L268.56 1350.56 L268.78 1352.37 L269 1354.93 L269.22 1356.58 L269.45 1358.73 L269.67 1360.17 L270.04 1362.53 L270.41 1365.24 L270.78 1367.42 L271.14 1369.71 L271.51 1371.7 L271.88 1373.77 L272.99 1376.11 L274.1 1378.54 L275.2 1380.32 L276.31 1382.72 L276.98 1384.73 L277.64 1387.34 L278.31 1388.94 L278.97 1391.7 L279.63 1394.13 L281.02 1395.05 L282.4 1397.16 L283.79 1398.86 L285.17 1400.69 L287.39 1401.95 L289.6 1403.17 L291.82 1404.76 L294.03 1405.87 L296.25 1406.49 L298.46 1406.54 L300.68 1407.17 L302.89 1407.84 L305.11 1408.22 L307.32 1409.01 L309.53 1409.2 L311.75 1410.23 L313.96 1410.5 L316.18 1410.43 L318.39 1411.12 L320.61 1411.3 L322.82 1411.79 L325.04 1411.92 L327.25 1412.08 L329.47 1412.28 L331.68 1412.63 L333.9 1413.09 L336.11 1413.16 L338.33 1412.95 L340.54 1413.67 L342.76 1413.7" fill="none" stroke="#4a4a4a" stroke-width="1.5" stroke-dasharray="6 4.2" stroke-linejoin="round"/>
<path d="M345.76 1413.6H498" fill="none" stroke="#4a4a4a" stroke-width="1.4" stroke-dasharray="6 4.2"/>
<path d="M185.95 1408.16 L186.83 1408.55 L187.72 1410.48 L189.27 1411.12 L190.82 1411.78 L192.37 1410.28 L193.92 1410.12 L195.47 1410.34 L197.02 1411.62 L198.57 1409.95 L200.12 1411.4 L201.67 1411.11 L203.22 1409.65 L204.8 1410.67 L206.39 1410.43 L207.97 1410.32 L209.55 1411.83 L211.13 1409.46 L212.71 1409.26 L214.3 1411.63 L215.88 1410.22 L217.46 1409.67 L219.04 1410 L220.62 1410.07 L222.21 1411.59 L223.79 1409.64 L225.37 1409.64 L226.95 1410.28 L228.54 1409.87 L230.12 1410.61 L231.7 1409.99 L233.28 1408.42 L234.86 1407.71 L236.45 1409.04 L238.03 1408.96 L239.61 1405.99 L241.19 1407.35 L242.77 1407.22 L244.36 1406.18 L245.94 1404.58 L247.52 1405.61 L249 1404.7 L250.47 1402.57 L251.95 1402.99 L253.43 1401.16 L254.9 1399.96 L256.38 1399.98 L257.33 1398.71 L258.28 1397.61 L259.23 1396.99 L260.18 1396.22 L261.12 1395.28 L262.07 1394.05 L263.02 1392.83 L264.13 1391.2 L265.24 1388.83 L266.35 1387.39 L267.45 1387.44 L268.56 1386.13 L269.67 1385.36 L270.62 1382.58 L271.57 1381.58 L272.52 1382.2 L273.46 1380.11 L274.41 1379.09 L275.36 1376.26 L276.31 1375.78 L277.79 1377.85 L279.27 1377.91 L280.74 1379.54 L281.23 1376 L281.73 1375.19 L282.22 1374.61 L282.71 1372.21 L283.2 1371.63 L283.7 1369.56 L284.19 1366.93 L284.68 1365.41 L285.17 1366.23 L286.06 1365.31 L286.94 1366.83 L287.83 1368.53 L288.72 1370.84 L289.6 1372.54 L291.08 1370.82 L292.55 1370.14 L294.03 1370.15 L295.51 1368.09 L296.98 1367.59 L298.46 1367.48 L299.94 1367.17 L301.41 1365.25 L302.89 1365.07 L304.37 1364.77 L305.84 1365.93 L307.32 1365.47 L308.27 1367.47 L309.22 1368.2 L310.17 1368.13 L311.12 1370.73 L312.07 1372.56 L313.02 1372.17 L313.96 1372.56 L315.63 1372.95 L317.29 1372.16 L318.95 1371.33 L320.61 1370.43 L322.09 1369.9 L323.56 1371.09 L325.04 1368.23 L326.52 1368.96 L327.99 1367.16 L329.47 1366.39 L330.94 1367.28 L332.42 1365.19 L333.9 1364.15 L334.78 1363.53 L335.67 1362.82 L336.56 1361.05 L337.44 1360.59 L338.33 1358.07 L339.21 1357.06 L340.1 1356.23 L340.99 1354.24 L341.87 1353.58 L342.76 1351.6 L343.31 1352.39 L343.86 1354.03 L344.42 1357.4 L344.97 1358.96 L346.08 1358.37 L347.19 1356.61 L348.29 1355.21 L349.4 1353.03 L350.51 1353.71 L351.62 1350.69 L352.72 1350.2 L353.83 1348.16 L354.94 1347.5 L356.05 1346.01 L357.15 1345.03 L358.26 1344.48 L358.89 1345.46 L359.53 1346.11 L360.16 1348.93 L360.79 1350.24 L361.43 1351.9 L362.06 1351.26 L362.69 1354.2 L364.02 1355.81 L365.35 1355.04 L366.68 1355.78 L368.01 1358.26 L369.34 1357.97 L370.44 1359.18 L371.55 1361.37 L372.66 1361.35 L373.77 1361.97 L374.87 1363.12 L375.98 1364.57 L376.81 1366.87 L377.64 1367.4 L378.47 1369.83 L379.3 1369.38 L380.13 1371.24 L380.96 1373.6 L381.79 1374.61 L382.62 1376.05 L383.36 1378.66 L384.1 1378.42 L384.84 1379.65 L385.58 1380.74 L386.32 1383.38 L387.05 1384.38 L387.79 1386.31 L388.53 1386.57 L389.27 1388.04 L390.1 1390.41 L390.93 1392.77 L391.76 1392.97 L392.59 1395.95 L393.42 1396.46 L394.25 1397.39 L395.08 1399.75 L395.91 1399.72 L397.24 1401.79 L398.57 1403.53 L399.9 1403.84 L401.23 1404.37 L402.56 1404.9 L403.89 1407.25 L405.22 1407.35 L406.54 1408.94 L407.87 1410.49 L409.2 1412.63 L410.97 1412.2 L412.75 1412.07 L414.52 1413.21 L416.29 1412.05 L418.06 1412.52 L419.72 1413.61 L421.38 1413.62 L423.05 1413.09 L424.71 1413.91 L426.22 1414.8 L427.73 1413.49 L429.24 1414.71 L430.75 1413.01 L432.26 1414.8 L433.77 1414.68 L435.28 1413.75 L436.79 1414.8 L438.3 1414.8 L439.81 1413.1 L441.32 1413.6 L442.83 1414.24 L444.34 1414.8 L445.85 1413.35 L447.36 1413.12 L448.87 1413.82 L450.38 1413.13 L451.89 1414.09 L453.4 1414.43 L454.91 1414.19 L456.42 1413.42 L457.93 1413.12 L459.47 1414.8 L461.01 1414.21 L462.56 1414.31 L464.1 1414.31 L465.64 1414.8 L467.18 1414.8 L468.72 1414.8 L470.27 1414.8 L471.81 1413.94 L473.35 1413.5 L474.89 1413.3 L476.44 1414.8 L477.98 1413.21 L479.52 1414.54 L481.06 1414.8 L482.6 1413.9 L484.15 1414.08 L485.69 1414.15 L487.23 1414.8 L488.77 1414.8 L490.31 1414.8 L491.86 1413.16 L493.4 1414.8 L494.94 1414.24 L496.48 1414.11 L498.03 1414.8 L499.57 1414.36" fill="none" stroke="#3c3c3c" stroke-width="1.4" stroke-linejoin="round"/>
<line x1="183.9" y1="1200.6" x2="500.8" y2="1200.6" stroke="#000" stroke-width="1.6"/>
<line x1="500" y1="1200.6" x2="500" y2="1416.8" stroke="#000" stroke-width="1.6"/>
<line x1="185.1" y1="1199.7" x2="185.1" y2="1417" stroke="#000" stroke-width="2.4"/>
<line x1="183.9" y1="1415.8" x2="500.9" y2="1415.8" stroke="#000" stroke-width="2.4"/>
<line x1="175.7" y1="1202.6" x2="185.1" y2="1202.6" stroke="#000" stroke-width="2.2"/>
<line x1="179.9" y1="1211.06" x2="185.1" y2="1211.06" stroke="#000" stroke-width="2"/>
<line x1="179.9" y1="1219.53" x2="185.1" y2="1219.53" stroke="#000" stroke-width="2"/>
<line x1="179.9" y1="1227.99" x2="185.1" y2="1227.99" stroke="#000" stroke-width="2"/>
<line x1="179.9" y1="1236.46" x2="185.1" y2="1236.46" stroke="#000" stroke-width="2"/>
<line x1="175.7" y1="1244.92" x2="185.1" y2="1244.92" stroke="#000" stroke-width="2.2"/>
<line x1="179.9" y1="1253.38" x2="185.1" y2="1253.38" stroke="#000" stroke-width="2"/>
<line x1="179.9" y1="1261.85" x2="185.1" y2="1261.85" stroke="#000" stroke-width="2"/>
<line x1="179.9" y1="1270.31" x2="185.1" y2="1270.31" stroke="#000" stroke-width="2"/>
<line x1="179.9" y1="1278.78" x2="185.1" y2="1278.78" stroke="#000" stroke-width="2"/>
<line x1="175.7" y1="1287.24" x2="185.1" y2="1287.24" stroke="#000" stroke-width="2.2"/>
<line x1="179.9" y1="1295.7" x2="185.1" y2="1295.7" stroke="#000" stroke-width="2"/>
<line x1="179.9" y1="1304.17" x2="185.1" y2="1304.17" stroke="#000" stroke-width="2"/>
<line x1="179.9" y1="1312.63" x2="185.1" y2="1312.63" stroke="#000" stroke-width="2"/>
<line x1="179.9" y1="1321.1" x2="185.1" y2="1321.1" stroke="#000" stroke-width="2"/>
<line x1="175.7" y1="1329.56" x2="185.1" y2="1329.56" stroke="#000" stroke-width="2.2"/>
<line x1="179.9" y1="1338.02" x2="185.1" y2="1338.02" stroke="#000" stroke-width="2"/>
<line x1="179.9" y1="1346.49" x2="185.1" y2="1346.49" stroke="#000" stroke-width="2"/>
<line x1="179.9" y1="1354.95" x2="185.1" y2="1354.95" stroke="#000" stroke-width="2"/>
<line x1="179.9" y1="1363.42" x2="185.1" y2="1363.42" stroke="#000" stroke-width="2"/>
<line x1="175.7" y1="1371.88" x2="185.1" y2="1371.88" stroke="#000" stroke-width="2.2"/>
<line x1="179.9" y1="1380.34" x2="185.1" y2="1380.34" stroke="#000" stroke-width="2"/>
<line x1="179.9" y1="1388.81" x2="185.1" y2="1388.81" stroke="#000" stroke-width="2"/>
<line x1="179.9" y1="1397.27" x2="185.1" y2="1397.27" stroke="#000" stroke-width="2"/>
<line x1="179.9" y1="1405.74" x2="185.1" y2="1405.74" stroke="#000" stroke-width="2"/>
<line x1="175.7" y1="1414.2" x2="185.1" y2="1414.2" stroke="#000" stroke-width="2.2"/>
<line x1="185" y1="1415.8" x2="185" y2="1423.8" stroke="#000" stroke-width="2.2"/>
<line x1="209.02" y1="1415.8" x2="209.02" y2="1420.4" stroke="#000" stroke-width="1.9"/>
<line x1="223.07" y1="1415.8" x2="223.07" y2="1420.4" stroke="#000" stroke-width="1.9"/>
<line x1="233.04" y1="1415.8" x2="233.04" y2="1420.4" stroke="#000" stroke-width="1.9"/>
<line x1="240.78" y1="1415.8" x2="240.78" y2="1420.4" stroke="#000" stroke-width="1.9"/>
<line x1="247.1" y1="1415.8" x2="247.1" y2="1420.4" stroke="#000" stroke-width="1.9"/>
<line x1="252.44" y1="1415.8" x2="252.44" y2="1420.4" stroke="#000" stroke-width="1.9"/>
<line x1="257.07" y1="1415.8" x2="257.07" y2="1420.4" stroke="#000" stroke-width="1.9"/>
<line x1="261.15" y1="1415.8" x2="261.15" y2="1420.4" stroke="#000" stroke-width="1.9"/>
<line x1="264.8" y1="1415.8" x2="264.8" y2="1423.8" stroke="#000" stroke-width="2.2"/>
<line x1="288.4" y1="1415.8" x2="288.4" y2="1420.4" stroke="#000" stroke-width="1.9"/>
<line x1="302.21" y1="1415.8" x2="302.21" y2="1420.4" stroke="#000" stroke-width="1.9"/>
<line x1="312" y1="1415.8" x2="312" y2="1420.4" stroke="#000" stroke-width="1.9"/>
<line x1="319.6" y1="1415.8" x2="319.6" y2="1420.4" stroke="#000" stroke-width="1.9"/>
<line x1="325.81" y1="1415.8" x2="325.81" y2="1420.4" stroke="#000" stroke-width="1.9"/>
<line x1="331.06" y1="1415.8" x2="331.06" y2="1420.4" stroke="#000" stroke-width="1.9"/>
<line x1="335.6" y1="1415.8" x2="335.6" y2="1420.4" stroke="#000" stroke-width="1.9"/>
<line x1="339.61" y1="1415.8" x2="339.61" y2="1420.4" stroke="#000" stroke-width="1.9"/>
<line x1="343.2" y1="1415.8" x2="343.2" y2="1423.8" stroke="#000" stroke-width="2.2"/>
<line x1="366.53" y1="1415.8" x2="366.53" y2="1420.4" stroke="#000" stroke-width="1.9"/>
<line x1="380.18" y1="1415.8" x2="380.18" y2="1420.4" stroke="#000" stroke-width="1.9"/>
<line x1="389.86" y1="1415.8" x2="389.86" y2="1420.4" stroke="#000" stroke-width="1.9"/>
<line x1="397.37" y1="1415.8" x2="397.37" y2="1420.4" stroke="#000" stroke-width="1.9"/>
<line x1="403.51" y1="1415.8" x2="403.51" y2="1420.4" stroke="#000" stroke-width="1.9"/>
<line x1="408.7" y1="1415.8" x2="408.7" y2="1420.4" stroke="#000" stroke-width="1.9"/>
<line x1="413.19" y1="1415.8" x2="413.19" y2="1420.4" stroke="#000" stroke-width="1.9"/>
<line x1="417.15" y1="1415.8" x2="417.15" y2="1420.4" stroke="#000" stroke-width="1.9"/>
<line x1="420.7" y1="1415.8" x2="420.7" y2="1423.8" stroke="#000" stroke-width="2.2"/>
<line x1="444.45" y1="1415.8" x2="444.45" y2="1420.4" stroke="#000" stroke-width="1.9"/>
<line x1="458.34" y1="1415.8" x2="458.34" y2="1420.4" stroke="#000" stroke-width="1.9"/>
<line x1="468.2" y1="1415.8" x2="468.2" y2="1420.4" stroke="#000" stroke-width="1.9"/>
<line x1="475.85" y1="1415.8" x2="475.85" y2="1420.4" stroke="#000" stroke-width="1.9"/>
<line x1="482.1" y1="1415.8" x2="482.1" y2="1420.4" stroke="#000" stroke-width="1.9"/>
<line x1="487.38" y1="1415.8" x2="487.38" y2="1420.4" stroke="#000" stroke-width="1.9"/>
<line x1="491.95" y1="1415.8" x2="491.95" y2="1420.4" stroke="#000" stroke-width="1.9"/>
<line x1="495.99" y1="1415.8" x2="495.99" y2="1420.4" stroke="#000" stroke-width="1.9"/>
<line x1="499.6" y1="1415.8" x2="499.6" y2="1423.8" stroke="#000" stroke-width="2.2"/>
<text transform="translate(113.99 1211.05)" font-size="26.2">200</text>
<text transform="translate(113.99 1253.37)" font-size="26.2">160</text>
<text transform="translate(113.99 1295.69)" font-size="26.2">120</text>
<text transform="translate(128.6 1338.01)" font-size="26.2">80</text>
<text transform="translate(128.6 1380.33)" font-size="26.2">40</text>
<text transform="translate(143.14 1421.9)" font-size="26.2">0</text>
<text transform="translate(161.43 1452)" font-size="23.6">10</text>
<text transform="translate(188.54 1442)" font-size="16.4">0</text>
<text transform="translate(241.23 1452)" font-size="23.6">10</text>
<text transform="translate(267.77 1442)" font-size="16.4">1</text>
<text transform="translate(319.63 1452)" font-size="23.6">10</text>
<text transform="translate(346.58 1442)" font-size="16.4">2</text>
<text transform="translate(397.13 1452)" font-size="23.6">10</text>
<text transform="translate(424.28 1442)" font-size="16.4">3</text>
<text transform="translate(476.03 1452)" font-size="23.6">10</text>
<text transform="translate(503.43 1442)" font-size="16.4">4</text>
<line x1="99" y1="1193.5" x2="99" y2="1451" stroke="#000" stroke-width="2.5"/>
<path d="M88.2 1210.6 L99 1192.6 L109.8 1210.6" fill="none" stroke="#000" stroke-width="2.5" stroke-linejoin="miter"/>
<line x1="119.5" y1="1467" x2="500.5" y2="1467" stroke="#000" stroke-width="2.5"/>
<path d="M483.5 1456.4 L501.5 1467 L483.5 1477.6" fill="none" stroke="#000" stroke-width="2.5" stroke-linejoin="miter"/>
<text transform="translate(280.24 1176.8) scale(1.0017 1)" font-size="33.4">HeLa</text>
<text transform="translate(78.2 1362.54) rotate(-90) scale(0.9483 1)" font-size="32.5">Counts</text>
<text transform="translate(282.58 1501) scale(0.9130 1)" font-size="31">CLDN1</text>
<path d="M740.87 1414.14 L741.98 1412.83 L743.09 1412.01 L744.2 1410.78 L745.06 1408.17 L745.92 1406.5 L746.78 1406.02 L747.64 1404.42 L748.5 1404.35 L749.37 1402.71 L750.23 1401.15 L751.09 1399.69 L751.95 1398.58 L752.69 1395.87 L753.43 1395.1 L754.16 1392.95 L754.9 1393.26 L755.64 1389.75 L756.38 1390.1 L757.12 1386.84 L757.86 1386.83 L758.59 1384.51 L759.09 1383.2 L759.58 1382.77 L760.07 1379.32 L760.56 1377.95 L761.05 1378.52 L761.55 1376.07 L762.04 1373.59 L762.53 1374.26 L763.02 1372.69 L763.76 1369.21 L764.5 1368.48 L765.24 1366.31 L765.98 1365.26 L766.71 1364.53 L767.45 1361.95 L768.56 1362.12 L769.67 1359.47 L770.78 1358.65 L771.88 1359.09 L772.33 1356.54 L772.77 1355.03 L773.21 1353.91 L773.65 1352.07 L774.1 1350.3 L774.54 1347.9 L774.98 1348.02 L775.43 1347.05 L775.87 1345.52 L776.31 1343.22 L777.2 1343.81 L778.08 1345.15 L778.97 1347.27 L779.86 1348.56 L780.74 1348.54 L781.85 1347.72 L782.96 1346.93 L784.06 1346.17 L785.17 1345.78 L785.8 1343.61 L786.44 1341.06 L787.07 1341.54 L787.7 1339.18 L788.34 1337.97 L788.97 1335.83 L789.6 1334.9 L790.49 1336.35 L791.37 1338.83 L792.26 1338.77 L793.15 1341.39 L794.03 1342.05 L795.51 1342.56 L796.98 1340.24 L798.46 1340.07 L799.94 1340.97 L801.41 1342.41 L802.89 1341.75 L804.55 1342.73 L806.21 1342.13 L807.87 1342.3 L809.53 1342.77 L810.64 1345.03 L811.75 1344.99 L812.86 1347.24 L813.96 1346.46 L815.07 1349.38 L816.18 1349.14 L817.66 1347.98 L819.13 1348.59 L820.61 1348.24 L821.5 1347.4 L822.38 1349.36 L823.27 1351.89 L824.15 1352.19 L825.04 1353.28 L826.15 1351.33 L827.25 1350.03 L828.36 1350.03 L829.47 1349.52 L830.1 1350.98 L830.73 1351.22 L831.37 1351.49 L832 1353.63 L832.63 1356.17 L833.27 1357.7 L833.9 1358.66 L834.5 1359.09 L835.11 1361.21 L835.71 1362.5 L836.31 1364.27 L836.92 1364.81 L837.52 1367.86 L838.13 1369.14 L838.73 1368.79 L839.33 1370.51 L839.94 1373.32 L840.54 1373.3 L841.37 1376.28 L842.2 1376.64 L843.03 1378.45 L843.86 1379.86 L844.7 1380.07 L845.53 1381.62 L846.36 1382.93 L847.19 1385.35 L848.14 1386.64 L849.09 1386.55 L850.03 1389.63 L850.98 1389.78 L851.93 1390.61 L852.88 1392.34 L853.83 1394.92 L855.1 1394.86 L856.36 1395.96 L857.63 1397.62 L858.89 1398.67 L860.16 1399.14 L861.43 1399.26 L862.69 1400.62 L864.08 1402.06 L865.46 1402.49 L866.84 1402.68 L868.23 1402.81 L869.61 1403.55 L871 1405.13 L872.38 1405.41 L873.77 1404.79 L875.24 1406.82 L876.72 1407.65 L878.19 1407.77 L879.67 1408.38 L881.15 1408.78 L882.62 1408.25 L884.1 1409.22 L885.58 1408.61 L887.05 1408.31 L888.72 1409.19 L890.38 1409.37 L892.04 1411.14 L893.7 1410.83 L895.36 1410.75 L897.02 1411.22 L898.68 1410.31 L900.34 1411.57 L901.82 1412.33 L903.3 1411.97 L904.77 1411.98 L906.25 1412.74 L907.73 1412.91 L909.2 1414.14 L911.42 1414.14 Z" fill="#c9c9c9" stroke="none"/>
<path d="M691.71 1322.89 L691.84 1321.04 L691.98 1318.17 L692.12 1315.86 L692.26 1314.43 L692.4 1311.56 L692.54 1309.3 L692.67 1307.51 L692.81 1305.05 L693.12 1303.27 L693.43 1300.53 L693.74 1298.89 L694.05 1296.17 L694.36 1294.18 L694.58 1292.45 L694.81 1290.26 L695.03 1288.46 L695.25 1286.29 L695.47 1283.77 L695.69 1282.44 L695.91 1280.22 L696.14 1278 L696.36 1275.91 L696.58 1274.44 L697.13 1272.02 L697.69 1270.08 L698.24 1267.74 L698.79 1265.67 L699.35 1263.14 L699.9 1261.03 L700.37 1258.75 L700.85 1256.25 L701.32 1254.6 L701.8 1251.87 L702.27 1250.03 L702.75 1247.95 L703.22 1245.49 L704.55 1243.53 L705.88 1242.53 L707.21 1240.85 L708.54 1238.92 L709.87 1237.26 L710.09 1239.72 L710.31 1241.4 L710.53 1244.19 L710.75 1245.93 L710.97 1248.01 L711.2 1250.01 L711.42 1252.28 L711.64 1254.56 L711.77 1256.11 L711.9 1258.19 L712.03 1260.39 L712.16 1262.19 L712.28 1264.46 L712.41 1266.45 L712.54 1268.39 L712.67 1270.61 L712.8 1272.53 L712.93 1274.2 L713.06 1276.96 L713.19 1278.48 L713.36 1280.58 L713.53 1282.6 L713.7 1285.07 L713.87 1287.13 L714.04 1288.83 L714.21 1290.78 L714.38 1292.58 L714.55 1295.27 L714.72 1296.73 L714.89 1299.08 L715.06 1300.96 L715.23 1302.99 L715.4 1305.06 L715.77 1306.89 L716.14 1308.74 L716.51 1311.11 L716.88 1313.28 L717.25 1315.13 L717.62 1316.75 L717.99 1319.11 L718.36 1320.56 L718.73 1322.82 L719.11 1325.37 L719.49 1327.66 L719.87 1329.5 L720.25 1332.03 L720.62 1333.96 L721 1336.2 L721.38 1338.46 L721.83 1340.76 L722.27 1342.53 L722.71 1344.28 L723.16 1346.45 L723.6 1348.35 L724.04 1350.09 L724.49 1352.4 L724.93 1354.4 L725.37 1356.2 L725.74 1358.44 L726.11 1359.67 L726.48 1362.02 L726.85 1364.1 L727.22 1365.83 L727.59 1367.66 L727.95 1370.05 L728.32 1371.81 L728.69 1373.65 L729.25 1375.4 L729.8 1378.08 L730.35 1379.53 L730.91 1381.28 L731.46 1383.29 L732.02 1385.26 L732.57 1387.69 L733.12 1389.08 L734.23 1391.15 L735.34 1393 L736.45 1395.29 L737.55 1397.08 L738.66 1399.18 L740.87 1400.6 L743.09 1401.86 L745.3 1402.89 L747.52 1403.36 L749.73 1404.74 L751.95 1406.23 L754.16 1406.4 L756.38 1407.37 L758.59 1408.43 L760.81 1409.18 L763.02 1410.36 L765.24 1411.22 L767.45 1411.93" fill="none" stroke="#4a4a4a" stroke-width="1.5" stroke-dasharray="6 4.2" stroke-linejoin="round"/>
<path d="M770.45 1413.4H1002.9" fill="none" stroke="#4a4a4a" stroke-width="1.4" stroke-dasharray="6 4.2"/>
<path d="M685.95 1411.48 L687.55 1410.25 L689.16 1410.46 L690.76 1410.56 L692.37 1411.97 L693.98 1410.78 L695.58 1411.23 L697.19 1409.48 L698.79 1410.4 L700.34 1411.27 L701.89 1410.44 L703.44 1411.53 L704.99 1411.37 L706.54 1410.04 L708.1 1409.08 L709.65 1411.04 L711.2 1409.41 L712.75 1409.1 L714.3 1410.98 L715.88 1411.11 L717.46 1410.94 L719.04 1411.08 L720.62 1408.97 L722.21 1408.5 L723.79 1408.44 L725.37 1410.51 L726.95 1408.1 L728.54 1408.07 L730.12 1407.55 L731.7 1407.46 L733.28 1407.28 L734.86 1407.94 L736.45 1407.29 L737.92 1407.11 L739.4 1408.17 L740.87 1405.64 L742.35 1406.76 L743.83 1406.01 L745.3 1405.02 L746.97 1404.48 L748.63 1404.43 L750.29 1403.4 L751.95 1401.92 L753.06 1401.07 L754.16 1399.74 L755.27 1399.04 L756.38 1399.46 L757.49 1396.9 L758.59 1394.86 L759.86 1394.97 L761.12 1394.89 L762.39 1392.99 L763.66 1392.71 L764.92 1390.17 L766.19 1389.15 L767.45 1389.76 L768.78 1387.28 L770.11 1387.05 L771.44 1386.38 L772.77 1384.99 L774.1 1383.7 L774.84 1382.15 L775.57 1383.13 L776.31 1380.97 L777.05 1380.17 L777.79 1377.5 L778.53 1377.23 L779.27 1375.51 L780 1373.4 L780.74 1371.68 L781.63 1370.31 L782.51 1368.25 L783.4 1367.31 L784.29 1366.88 L785.17 1364.18 L786.28 1364.77 L787.39 1362.78 L788.49 1361.92 L789.6 1361.38 L790.71 1359.82 L791.82 1357.39 L792.55 1356.2 L793.29 1354.08 L794.03 1352.67 L794.77 1353.6 L795.51 1351.19 L796.25 1350.69 L796.98 1348.72 L797.72 1346.04 L798.46 1346.25 L799.06 1344.73 L799.67 1342.11 L800.27 1339.73 L800.88 1338.93 L801.48 1337.12 L802.08 1336.23 L802.69 1334.09 L803.29 1334.32 L803.9 1333.6 L804.5 1330.19 L805.11 1330.26 L806.43 1328.87 L807.76 1327.72 L809.09 1327.94 L810.42 1325.67 L811.75 1325.94 L812.86 1322.79 L813.96 1324.1 L815.07 1320.96 L816.18 1319.39 L817.29 1320.56 L818.39 1319.04 L819.5 1317.81 L820.61 1316.94 L821.5 1317.26 L822.38 1317.9 L823.27 1319.76 L824.15 1322.74 L825.04 1324.14 L825.33 1320.59 L825.63 1319.54 L825.92 1317.96 L826.22 1317.54 L826.52 1313.61 L826.81 1314.15 L827.11 1311.05 L827.4 1310.22 L827.7 1307.53 L827.92 1308.94 L828.14 1312.54 L828.36 1313.07 L828.58 1315.81 L828.8 1317.06 L829.03 1318.29 L829.25 1318.05 L829.47 1320.91 L829.81 1323.49 L830.15 1323.75 L830.49 1324.15 L830.83 1325.99 L831.17 1329.61 L831.51 1331.12 L831.85 1330.75 L832.19 1332.47 L832.54 1335.03 L832.88 1336.03 L833.22 1336.72 L833.56 1340.34 L833.9 1340.92 L834.34 1341.81 L834.78 1342.47 L835.23 1345.29 L835.67 1347.47 L836.11 1347.52 L836.56 1348.84 L837 1352.04 L837.44 1354.11 L837.88 1354.24 L838.33 1356.04 L838.96 1358.05 L839.59 1359.33 L840.23 1359.89 L840.86 1361.86 L841.49 1363.26 L842.12 1364.82 L842.76 1366.12 L843.59 1368.29 L844.42 1369.23 L845.25 1372.24 L846.08 1372.26 L846.91 1375.31 L847.74 1376.3 L848.57 1376.28 L849.4 1377.36 L850.23 1379.83 L851.06 1380.96 L851.89 1382.51 L852.72 1382.82 L853.55 1385.26 L854.39 1387.24 L855.22 1387.81 L856.05 1388.7 L857.15 1391.54 L858.26 1391.02 L859.37 1393.95 L860.48 1394.26 L861.58 1393.58 L862.69 1395.84 L864.35 1395.9 L866.01 1398.39 L867.67 1398.27 L869.34 1398.22 L870.81 1401.03 L872.29 1401.19 L873.77 1401.24 L875.24 1401.69 L876.72 1400.96 L878.19 1403.88 L879.67 1402.66 L881.15 1403.79 L882.62 1404.26 L884.1 1404.77 L885.58 1404.14 L887.05 1406.97 L888.53 1406.48 L890.01 1406.78 L891.48 1408.55 L892.96 1409.1 L894.44 1409.28 L895.91 1410.33 L897.57 1409.02 L899.24 1408.52 L900.9 1409.29 L902.56 1410.09 L904.22 1410.71 L905.88 1410.71 L907.54 1410.58 L909.2 1410.64 L910.75 1410.92 L912.3 1410.79 L913.85 1409.45 L915.4 1410.94 L916.95 1410.35 L918.5 1409.93 L920.06 1411.44 L921.61 1412.15 L923.16 1410.81 L924.71 1411.93 L926.29 1411.81 L927.87 1411.96 L929.45 1412.45 L931.03 1411.99 L932.62 1410.39 L934.2 1411.79 L935.78 1411.09 L937.36 1411.27 L938.94 1411.94 L940.53 1410.64 L942.11 1411.81 L943.69 1412.62 L945.27 1410.38 L946.85 1412.4 L948.44 1412.07 L950.02 1411.33 L951.6 1412.32 L953.18 1410.58 L954.77 1410.84 L956.35 1413.06 L957.93 1412.13 L959.51 1411 L961.09 1410.95 L962.68 1411.82 L964.26 1412.13 L965.84 1413.33 L967.42 1411.28 L969 1412.5 L970.56 1411.96 L972.12 1412.24 L973.68 1413.21 L975.25 1411.04 L976.81 1412.87 L978.37 1412.57 L979.93 1411.33 L981.49 1410.92 L983.05 1412.52 L984.61 1412.76 L986.17 1411.41 L987.73 1410.84 L989.29 1411.9 L990.85 1412.17 L992.41 1411.33 L993.97 1411.43 L995.53 1410.6 L997.09 1410.67 L998.65 1410.85 L1000.21 1412.21 L1001.77 1410.53 L1003.33 1411.48" fill="none" stroke="#3c3c3c" stroke-width="1.4" stroke-linejoin="round"/>
<line x1="683.8" y1="1200.6" x2="1005.7" y2="1200.6" stroke="#000" stroke-width="1.6"/>
<line x1="1004.9" y1="1200.6" x2="1004.9" y2="1416.6" stroke="#000" stroke-width="1.6"/>
<line x1="685" y1="1199.7" x2="685" y2="1416.8" stroke="#000" stroke-width="2.4"/>
<line x1="683.8" y1="1415.6" x2="1005.8" y2="1415.6" stroke="#000" stroke-width="2.4"/>
<line x1="675.6" y1="1202.6" x2="685" y2="1202.6" stroke="#000" stroke-width="2.2"/>
<line x1="679.8" y1="1211.06" x2="685" y2="1211.06" stroke="#000" stroke-width="2"/>
<line x1="679.8" y1="1219.51" x2="685" y2="1219.51" stroke="#000" stroke-width="2"/>
<line x1="679.8" y1="1227.97" x2="685" y2="1227.97" stroke="#000" stroke-width="2"/>
<line x1="679.8" y1="1236.42" x2="685" y2="1236.42" stroke="#000" stroke-width="2"/>
<line x1="675.6" y1="1244.88" x2="685" y2="1244.88" stroke="#000" stroke-width="2.2"/>
<line x1="679.8" y1="1253.34" x2="685" y2="1253.34" stroke="#000" stroke-width="2"/>
<line x1="679.8" y1="1261.79" x2="685" y2="1261.79" stroke="#000" stroke-width="2"/>
<line x1="679.8" y1="1270.25" x2="685" y2="1270.25" stroke="#000" stroke-width="2"/>
<line x1="679.8" y1="1278.7" x2="685" y2="1278.7" stroke="#000" stroke-width="2"/>
<line x1="675.6" y1="1287.16" x2="685" y2="1287.16" stroke="#000" stroke-width="2.2"/>
<line x1="679.8" y1="1295.62" x2="685" y2="1295.62" stroke="#000" stroke-width="2"/>
<line x1="679.8" y1="1304.07" x2="685" y2="1304.07" stroke="#000" stroke-width="2"/>
<line x1="679.8" y1="1312.53" x2="685" y2="1312.53" stroke="#000" stroke-width="2"/>
<line x1="679.8" y1="1320.98" x2="685" y2="1320.98" stroke="#000" stroke-width="2"/>
<line x1="675.6" y1="1329.44" x2="685" y2="1329.44" stroke="#000" stroke-width="2.2"/>
<line x1="679.8" y1="1337.9" x2="685" y2="1337.9" stroke="#000" stroke-width="2"/>
<line x1="679.8" y1="1346.35" x2="685" y2="1346.35" stroke="#000" stroke-width="2"/>
<line x1="679.8" y1="1354.81" x2="685" y2="1354.81" stroke="#000" stroke-width="2"/>
<line x1="679.8" y1="1363.26" x2="685" y2="1363.26" stroke="#000" stroke-width="2"/>
<line x1="675.6" y1="1371.72" x2="685" y2="1371.72" stroke="#000" stroke-width="2.2"/>
<line x1="679.8" y1="1380.18" x2="685" y2="1380.18" stroke="#000" stroke-width="2"/>
<line x1="679.8" y1="1388.63" x2="685" y2="1388.63" stroke="#000" stroke-width="2"/>
<line x1="679.8" y1="1397.09" x2="685" y2="1397.09" stroke="#000" stroke-width="2"/>
<line x1="679.8" y1="1405.54" x2="685" y2="1405.54" stroke="#000" stroke-width="2"/>
<line x1="675.6" y1="1414" x2="685" y2="1414" stroke="#000" stroke-width="2.2"/>
<line x1="685" y1="1415.6" x2="685" y2="1423.6" stroke="#000" stroke-width="2.2"/>
<line x1="709.14" y1="1415.6" x2="709.14" y2="1420.2" stroke="#000" stroke-width="1.9"/>
<line x1="723.27" y1="1415.6" x2="723.27" y2="1420.2" stroke="#000" stroke-width="1.9"/>
<line x1="733.29" y1="1415.6" x2="733.29" y2="1420.2" stroke="#000" stroke-width="1.9"/>
<line x1="741.06" y1="1415.6" x2="741.06" y2="1420.2" stroke="#000" stroke-width="1.9"/>
<line x1="747.41" y1="1415.6" x2="747.41" y2="1420.2" stroke="#000" stroke-width="1.9"/>
<line x1="752.78" y1="1415.6" x2="752.78" y2="1420.2" stroke="#000" stroke-width="1.9"/>
<line x1="757.43" y1="1415.6" x2="757.43" y2="1420.2" stroke="#000" stroke-width="1.9"/>
<line x1="761.53" y1="1415.6" x2="761.53" y2="1420.2" stroke="#000" stroke-width="1.9"/>
<line x1="765.2" y1="1415.6" x2="765.2" y2="1423.6" stroke="#000" stroke-width="2.2"/>
<line x1="789.22" y1="1415.6" x2="789.22" y2="1420.2" stroke="#000" stroke-width="1.9"/>
<line x1="803.27" y1="1415.6" x2="803.27" y2="1420.2" stroke="#000" stroke-width="1.9"/>
<line x1="813.24" y1="1415.6" x2="813.24" y2="1420.2" stroke="#000" stroke-width="1.9"/>
<line x1="820.98" y1="1415.6" x2="820.98" y2="1420.2" stroke="#000" stroke-width="1.9"/>
<line x1="827.3" y1="1415.6" x2="827.3" y2="1420.2" stroke="#000" stroke-width="1.9"/>
<line x1="832.64" y1="1415.6" x2="832.64" y2="1420.2" stroke="#000" stroke-width="1.9"/>
<line x1="837.27" y1="1415.6" x2="837.27" y2="1420.2" stroke="#000" stroke-width="1.9"/>
<line x1="841.35" y1="1415.6" x2="841.35" y2="1420.2" stroke="#000" stroke-width="1.9"/>
<line x1="845" y1="1415.6" x2="845" y2="1423.6" stroke="#000" stroke-width="2.2"/>
<line x1="868.99" y1="1415.6" x2="868.99" y2="1420.2" stroke="#000" stroke-width="1.9"/>
<line x1="883.03" y1="1415.6" x2="883.03" y2="1420.2" stroke="#000" stroke-width="1.9"/>
<line x1="892.98" y1="1415.6" x2="892.98" y2="1420.2" stroke="#000" stroke-width="1.9"/>
<line x1="900.71" y1="1415.6" x2="900.71" y2="1420.2" stroke="#000" stroke-width="1.9"/>
<line x1="907.02" y1="1415.6" x2="907.02" y2="1420.2" stroke="#000" stroke-width="1.9"/>
<line x1="912.35" y1="1415.6" x2="912.35" y2="1420.2" stroke="#000" stroke-width="1.9"/>
<line x1="916.98" y1="1415.6" x2="916.98" y2="1420.2" stroke="#000" stroke-width="1.9"/>
<line x1="921.05" y1="1415.6" x2="921.05" y2="1420.2" stroke="#000" stroke-width="1.9"/>
<line x1="924.7" y1="1415.6" x2="924.7" y2="1423.6" stroke="#000" stroke-width="2.2"/>
<line x1="948.69" y1="1415.6" x2="948.69" y2="1420.2" stroke="#000" stroke-width="1.9"/>
<line x1="962.73" y1="1415.6" x2="962.73" y2="1420.2" stroke="#000" stroke-width="1.9"/>
<line x1="972.68" y1="1415.6" x2="972.68" y2="1420.2" stroke="#000" stroke-width="1.9"/>
<line x1="980.41" y1="1415.6" x2="980.41" y2="1420.2" stroke="#000" stroke-width="1.9"/>
<line x1="986.72" y1="1415.6" x2="986.72" y2="1420.2" stroke="#000" stroke-width="1.9"/>
<line x1="992.05" y1="1415.6" x2="992.05" y2="1420.2" stroke="#000" stroke-width="1.9"/>
<line x1="996.68" y1="1415.6" x2="996.68" y2="1420.2" stroke="#000" stroke-width="1.9"/>
<line x1="1000.75" y1="1415.6" x2="1000.75" y2="1420.2" stroke="#000" stroke-width="1.9"/>
<line x1="1004.4" y1="1415.6" x2="1004.4" y2="1423.6" stroke="#000" stroke-width="2.2"/>
<text transform="translate(617.99 1211.05)" font-size="26.2">200</text>
<text transform="translate(617.99 1253.33)" font-size="26.2">160</text>
<text transform="translate(617.99 1295.61)" font-size="26.2">120</text>
<text transform="translate(632.6 1337.89)" font-size="26.2">80</text>
<text transform="translate(632.6 1380.17)" font-size="26.2">40</text>
<text transform="translate(647.14 1421.7)" font-size="26.2">0</text>
<text transform="translate(665.63 1452)" font-size="23.6">10</text>
<text transform="translate(692.74 1442)" font-size="16.4">0</text>
<text transform="translate(745.83 1452)" font-size="23.6">10</text>
<text transform="translate(772.37 1442)" font-size="16.4">1</text>
<text transform="translate(825.63 1452)" font-size="23.6">10</text>
<text transform="translate(852.58 1442)" font-size="16.4">2</text>
<text transform="translate(905.33 1452)" font-size="23.6">10</text>
<text transform="translate(932.49 1442)" font-size="16.4">3</text>
<text transform="translate(985.03 1452)" font-size="23.6">10</text>
<text transform="translate(1012.43 1442)" font-size="16.4">4</text>
<line x1="603" y1="1193.5" x2="603" y2="1451" stroke="#000" stroke-width="2.5"/>
<path d="M592.2 1210.6 L603 1192.6 L613.8 1210.6" fill="none" stroke="#000" stroke-width="2.5" stroke-linejoin="miter"/>
<line x1="624" y1="1467" x2="1004.5" y2="1467" stroke="#000" stroke-width="2.5"/>
<path d="M987.5 1456.4 L1005.5 1467 L987.5 1477.6" fill="none" stroke="#000" stroke-width="2.5" stroke-linejoin="miter"/>
<text transform="translate(787.51 1175.2) scale(1.0785 1)" font-size="33.4">A549</text>
<text transform="translate(583.2 1362.54) rotate(-90) scale(0.9483 1)" font-size="32.5">Counts</text>
<text transform="translate(786.58 1501) scale(0.9130 1)" font-size="31">CLDN1</text>
<path d="M1256.95 1413.7 L1258.61 1412.01 L1260.27 1411.93 L1260.96 1410.54 L1261.66 1409.55 L1262.35 1406.58 L1263.04 1405.3 L1263.73 1403.72 L1264.42 1402.52 L1265.12 1402.36 L1265.81 1399.52 L1266.44 1398.9 L1267.07 1396.56 L1267.71 1395.17 L1268.34 1393.92 L1268.97 1393.31 L1269.61 1391.18 L1270.24 1388.17 L1270.53 1387.32 L1270.83 1385.53 L1271.12 1385.8 L1271.42 1384.17 L1271.71 1382.69 L1272.01 1381.26 L1272.31 1379.59 L1272.6 1378.6 L1272.9 1376.75 L1273.19 1373.99 L1273.49 1373.93 L1273.78 1371.59 L1274.08 1370.75 L1274.37 1368.82 L1274.67 1367.02 L1275.04 1365.38 L1275.41 1364.07 L1275.78 1362.31 L1276.14 1360.36 L1276.51 1360.57 L1276.88 1359.04 L1277.25 1358.02 L1277.62 1355.83 L1277.99 1354.03 L1278.36 1353.02 L1278.73 1350.07 L1279.1 1349.89 L1279.54 1347.78 L1279.98 1345.59 L1280.43 1344.1 L1280.87 1343.32 L1281.31 1341.12 L1281.76 1340.07 L1282.2 1338.87 L1282.64 1336.82 L1283.08 1334.63 L1283.53 1333.94 L1284.02 1331.85 L1284.51 1330.38 L1285 1328.8 L1285.5 1327.74 L1285.99 1325.56 L1286.48 1325.47 L1286.97 1324.72 L1287.46 1321.89 L1287.96 1321.2 L1288.59 1320.13 L1289.22 1316.42 L1289.86 1315.07 L1290.49 1315.08 L1291.12 1313.58 L1291.75 1311.52 L1292.39 1308.78 L1293.31 1308.1 L1294.23 1307.9 L1295.16 1306.65 L1296.08 1305.16 L1297 1302.43 L1297.92 1302.7 L1298.66 1303.03 L1299.4 1305.32 L1300.14 1305.41 L1300.88 1308.89 L1301.61 1309.48 L1302.35 1311.24 L1303.74 1309.19 L1305.12 1309.33 L1306.51 1308.41 L1307.89 1307.61 L1309.37 1308.16 L1310.84 1310.15 L1312.32 1310.33 L1312.87 1311.74 L1313.43 1312.95 L1313.98 1315.72 L1314.53 1315.87 L1315.09 1317.66 L1315.64 1318.81 L1316.2 1321.71 L1316.75 1323.03 L1317.49 1324.47 L1318.23 1324.74 L1318.96 1327.18 L1319.7 1328.42 L1320.44 1329.3 L1321.18 1330.56 L1321.67 1334.42 L1322.16 1333.79 L1322.66 1335.7 L1323.15 1337.1 L1323.64 1339.37 L1324.13 1339.59 L1324.62 1342.01 L1325.12 1343.24 L1325.61 1345.84 L1326.24 1345.28 L1326.87 1347.49 L1327.51 1349.3 L1328.14 1351.86 L1328.77 1352.2 L1329.41 1353.52 L1330.04 1355.41 L1330.67 1355.94 L1331.3 1356.73 L1331.94 1359.28 L1332.57 1361.69 L1333.2 1362.7 L1333.84 1362.97 L1334.47 1365.41 L1335.1 1367.39 L1335.73 1367.56 L1336.37 1369.93 L1337 1370.95 L1337.63 1372.27 L1338.27 1373.95 L1338.9 1375.34 L1339.39 1377.17 L1339.88 1377.89 L1340.37 1380.23 L1340.87 1380.96 L1341.36 1384.05 L1341.85 1385.15 L1342.34 1385.19 L1342.84 1388.52 L1343.33 1388.59 L1344.28 1390.55 L1345.23 1392 L1346.18 1392.73 L1347.12 1393.89 L1348.07 1395.51 L1349.02 1396.06 L1349.97 1399.07 L1351.08 1398.37 L1352.19 1401.19 L1353.29 1400.84 L1354.4 1402.15 L1355.51 1403.46 L1356.62 1403.72 L1358.09 1404.69 L1359.57 1405.98 L1361.05 1406.91 L1362.52 1408.7 L1364 1409.71 L1365.48 1408.17 L1367.14 1409.21 L1368.8 1408.1 L1370.46 1409.58 L1372.12 1408.29 L1373.78 1409.52 L1375.44 1408.55 L1377.1 1407.4 L1378.77 1406.97 L1380.24 1407.19 L1381.72 1408.31 L1383.19 1406.21 L1384.67 1406.63 L1386.15 1406.01 L1387.62 1405.57 L1389.1 1407.22 L1390.58 1406.37 L1392.05 1408.13 L1393.53 1408.56 L1395.01 1409.76 L1396.48 1409.32 L1398.15 1410.56 L1399.81 1409.68 L1401.47 1410.28 L1403.13 1410.67 L1404.79 1411.47 L1406.45 1411.88 L1408.11 1410.28 L1409.77 1410.61 L1411.43 1411.84 L1413.1 1412.79 L1414.76 1412.4 L1416.42 1412.11 L1418.08 1413.9 L1419.74 1412.66 L1421.4 1412.43 L1423.06 1413.7 Z" fill="#c9c9c9" stroke="none"/>
<path d="M1237.02 1405.95 L1239.14 1405.84 L1241.27 1405.42 L1243.39 1404.93 L1245.52 1403.84 L1247.65 1403.81 L1247.96 1401.68 L1248.27 1399.77 L1248.58 1397.46 L1248.89 1395.51 L1249.2 1393.72 L1250.3 1391.33 L1251.41 1389.3 L1252.52 1386.74 L1253.63 1384.57 L1254.18 1382.86 L1254.73 1380.41 L1255.29 1378.27 L1255.84 1376.23 L1256.4 1373.72 L1256.95 1371.26 L1257.27 1369.63 L1257.58 1367.26 L1257.9 1365.1 L1258.21 1362.85 L1258.53 1360.92 L1258.85 1358.22 L1259.16 1356.32 L1259.47 1353.99 L1259.77 1352.14 L1260.07 1350.2 L1260.37 1347.91 L1260.67 1345.71 L1260.98 1344.01 L1261.28 1342.19 L1261.58 1340.08 L1261.88 1337.95 L1262.18 1336.09 L1262.49 1333.71 L1262.76 1331.49 L1263.04 1329.39 L1263.32 1327.57 L1263.59 1324.86 L1263.87 1322.58 L1264.15 1320.35 L1264.42 1318.09 L1264.7 1316.07 L1264.9 1314.29 L1265.1 1312.48 L1265.31 1310.07 L1265.51 1308.09 L1265.71 1306.01 L1265.91 1304.01 L1266.11 1302.37 L1266.31 1300.18 L1266.51 1297.93 L1266.71 1295.8 L1266.92 1294.32 L1267.23 1292.05 L1267.55 1289.93 L1267.87 1287.24 L1268.18 1285.27 L1268.5 1283.36 L1268.81 1280.88 L1269.13 1278.95 L1269.44 1276.11 L1269.75 1274.54 L1270.06 1271.59 L1270.37 1269.67 L1270.68 1267.14 L1271.71 1265.92 L1272.75 1263.98 L1273.78 1262.36 L1274.82 1260.38 L1275.85 1258.65 L1276.88 1256.48 L1277.02 1259.05 L1277.16 1261.07 L1277.3 1262.97 L1277.44 1265.68 L1277.57 1267.42 L1277.71 1269.49 L1277.85 1271.61 L1277.99 1274.14 L1278.88 1276.14 L1279.76 1278.94 L1280.65 1281.17 L1281.53 1282.8 L1282.42 1284.92 L1283.08 1287.48 L1283.75 1289.4 L1284.41 1291.92 L1285.08 1294.35 L1285.74 1296.11 L1286.3 1298.46 L1286.85 1301.06 L1287.4 1302.91 L1287.96 1305.05 L1288.51 1307.7 L1289.06 1309.85 L1289.73 1312.13 L1290.39 1314.18 L1291.06 1316.18 L1291.72 1318.62 L1292.39 1320.94 L1293.05 1323 L1293.72 1324.9 L1294.38 1327.16 L1295.04 1329.46 L1295.71 1331.97 L1296.34 1333.69 L1296.97 1335.59 L1297.61 1337.71 L1298.24 1339.03 L1298.87 1341.35 L1299.51 1343.01 L1300.14 1345.09 L1300.8 1347.52 L1301.47 1349.27 L1302.13 1352.04 L1302.8 1353.56 L1303.46 1356.16 L1304.35 1358.36 L1305.23 1360.33 L1306.12 1362.81 L1307 1364.95 L1307.89 1367.15 L1309 1369.58 L1310.11 1371.22 L1311.21 1373.73 L1312.32 1376.27 L1313.24 1377.61 L1314.17 1380.03 L1315.09 1381.35 L1316.01 1383.57 L1316.93 1385.01 L1317.86 1387.08 L1318.96 1388.83 L1320.07 1390.33 L1321.18 1392.6 L1322.29 1394.19 L1323.39 1396.13 L1324.72 1397.56 L1326.05 1399.13 L1327.38 1400.65 L1328.71 1402.02 L1330.04 1404.05 L1331.7 1404.79 L1333.36 1406.8 L1335.02 1408.18 L1336.68 1409.27 L1338.9 1410.45 L1341.11 1411.33 L1343.33 1412.15" fill="none" stroke="#4a4a4a" stroke-width="1.5" stroke-dasharray="6 4.2" stroke-linejoin="round"/>
<path d="M1346.33 1412.7H1506.3" fill="none" stroke="#4a4a4a" stroke-width="1.4" stroke-dasharray="6 4.2"/>
<path d="M1190.95 1408.16 L1191.83 1409.67 L1192.72 1411.16 L1194.28 1411.62 L1195.85 1410.19 L1197.41 1411.14 L1198.97 1411.73 L1200.54 1411.75 L1202.1 1409.85 L1203.66 1411.03 L1205.23 1410.92 L1206.79 1410.59 L1208.35 1411.77 L1209.92 1410.61 L1211.48 1410.36 L1213.04 1411.63 L1214.61 1410.81 L1216.17 1409.91 L1217.73 1409.91 L1219.3 1410.37 L1220.83 1409.21 L1222.36 1410.66 L1223.9 1410.99 L1225.43 1410.18 L1226.96 1411.28 L1228.5 1411.49 L1230.03 1410.52 L1231.56 1410.85 L1233.1 1409.38 L1234.63 1409.22 L1236.16 1411.62 L1237.7 1409.82 L1239.23 1409.63 L1240.76 1411.41 L1242.3 1411.03 L1243.83 1409.4 L1245.36 1409.91 L1246.9 1409.71 L1248.43 1409.79 L1249.96 1409.09 L1251.5 1410.44 L1253.03 1409.87 L1254.56 1410.1 L1256.1 1409.56 L1257.63 1409.36 L1259.16 1409.16 L1260.64 1410.98 L1262.12 1410.28 L1263.59 1409.42 L1265.07 1407.92 L1266.55 1407.62 L1268.02 1407.17 L1269.35 1406.58 L1270.68 1404.8 L1272.01 1404.26 L1273.34 1402.96 L1274.67 1401.83 L1275.62 1401.76 L1276.57 1399.98 L1277.52 1398.76 L1278.46 1397.19 L1279.41 1396.4 L1280.36 1395.77 L1281.31 1393.27 L1282.26 1391.38 L1283.21 1391.19 L1284.16 1389.65 L1285.11 1389.43 L1286.06 1386.43 L1287.01 1387.14 L1287.96 1383.64 L1288.7 1383.54 L1289.43 1381.81 L1290.17 1380 L1290.91 1380.01 L1291.65 1378.05 L1292.39 1375.17 L1293.12 1374.56 L1293.86 1373.39 L1294.6 1370.4 L1295.43 1369.16 L1296.26 1369.11 L1297.09 1368.06 L1297.92 1365.98 L1298.75 1364.49 L1299.58 1363.33 L1300.42 1361.3 L1301.25 1361.52 L1302.2 1360.48 L1303.14 1357.96 L1304.09 1355.5 L1305.04 1355.21 L1305.99 1355 L1306.94 1352.49 L1307.89 1350.66 L1308.63 1349.39 L1309.37 1349.28 L1310.11 1347.57 L1310.84 1345.22 L1311.58 1344.62 L1312.32 1343.5 L1313.06 1342.56 L1313.8 1340.73 L1314.53 1338.22 L1315.64 1338.09 L1316.75 1337.29 L1317.86 1336.03 L1318.96 1334.62 L1320.07 1333.08 L1321.18 1331.78 L1322.51 1331.86 L1323.84 1330.48 L1325.17 1329.93 L1326.5 1327.85 L1327.82 1326.7 L1328.93 1328.2 L1330.04 1330.05 L1331.15 1331.05 L1332.25 1331.11 L1333.36 1332.12 L1334.47 1335.13 L1335.3 1334.23 L1336.13 1337.84 L1336.96 1338.82 L1337.79 1339.69 L1338.62 1342.17 L1339.45 1342.74 L1340.28 1342.37 L1341.11 1346.18 L1342.06 1346.24 L1343.01 1348.97 L1343.96 1350.13 L1344.91 1349.79 L1345.86 1350.96 L1346.81 1352.34 L1347.76 1355.74 L1349.23 1355.39 L1350.71 1353.56 L1352.19 1352.89 L1352.93 1355.03 L1353.66 1357.63 L1354.4 1358.95 L1355.14 1360.76 L1355.88 1362.5 L1356.62 1363.42 L1357.36 1365.11 L1358.09 1364.45 L1358.83 1365.9 L1359.94 1369.24 L1361.05 1369.71 L1362.15 1370.06 L1363.26 1370.65 L1364.37 1372.29 L1365.48 1373.41 L1366.81 1374.93 L1368.13 1375.92 L1369.46 1376.38 L1370.79 1377.17 L1372.12 1378.6 L1373.78 1378.4 L1375.44 1378.33 L1377.1 1379.15 L1378.77 1378.41 L1380.24 1379.04 L1381.72 1377.27 L1383.19 1375.94 L1384.3 1375.3 L1385.41 1373.14 L1386.52 1371.49 L1387.62 1370.52 L1388.18 1372.67 L1388.73 1374.21 L1389.29 1375.4 L1389.84 1377.02 L1390.39 1379.87 L1390.95 1379.2 L1392.61 1379.79 L1394.27 1379.06 L1395.16 1380.35 L1396.04 1383.05 L1396.93 1383.3 L1397.81 1384.38 L1398.7 1386.24 L1399.96 1389.47 L1401.23 1388.93 L1402.5 1389.45 L1403.76 1392.77 L1405.03 1393.03 L1406.29 1394.95 L1407.56 1394.43 L1408.82 1396.63 L1410.09 1395.58 L1411.36 1397.04 L1412.62 1399.44 L1413.89 1399.66 L1415.15 1401.32 L1416.42 1401.22 L1417.89 1403.42 L1419.37 1402.26 L1420.85 1404.61 L1422.32 1404.4 L1423.8 1405.35 L1425.28 1408.05 L1426.75 1407.43 L1428.23 1408.97 L1429.71 1408.15 L1431.18 1409.87 L1432.66 1410.88 L1434.14 1410.71 L1435.72 1409.84 L1437.3 1411.13 L1438.88 1412.02 L1440.46 1411.79 L1442.05 1411.02 L1443.63 1411.06 L1445.21 1410.44 L1446.73 1412.18 L1448.24 1410.6 L1449.76 1410.75 L1451.27 1410.27 L1452.79 1410.61 L1454.3 1411.18 L1455.82 1411.42 L1457.33 1410.64 L1458.85 1411.29 L1460.36 1412.15 L1461.88 1410.44 L1463.4 1410.54 L1464.91 1411.54 L1466.43 1412.53 L1467.94 1412.57 L1469.46 1411.66 L1470.97 1410.42 L1472.49 1412.46 L1474 1412.76 L1475.56 1412.5 L1477.13 1411.52 L1478.69 1411.12 L1480.25 1411.63 L1481.81 1412.13 L1483.37 1412.64 L1484.93 1411.32 L1486.49 1411.33 L1488.05 1410.8 L1489.61 1411.38 L1491.17 1411.37 L1492.73 1410.67 L1494.3 1411.1 L1495.86 1412.27 L1497.42 1410.48 L1498.98 1410.51 L1500.54 1410.62 L1502.1 1412.04 L1503.66 1410.57 L1505.22 1411.91 L1506.78 1411.04" fill="none" stroke="#3c3c3c" stroke-width="1.4" stroke-linejoin="round"/>
<line x1="1187.6" y1="1200.6" x2="1509.1" y2="1200.6" stroke="#000" stroke-width="1.6"/>
<line x1="1508.3" y1="1200.6" x2="1508.3" y2="1415.9" stroke="#000" stroke-width="1.6"/>
<line x1="1188.8" y1="1199.7" x2="1188.8" y2="1416.1" stroke="#000" stroke-width="2.4"/>
<line x1="1187.6" y1="1414.9" x2="1509.2" y2="1414.9" stroke="#000" stroke-width="2.4"/>
<line x1="1179.4" y1="1202.6" x2="1188.8" y2="1202.6" stroke="#000" stroke-width="2.2"/>
<line x1="1183.6" y1="1211.03" x2="1188.8" y2="1211.03" stroke="#000" stroke-width="2"/>
<line x1="1183.6" y1="1219.46" x2="1188.8" y2="1219.46" stroke="#000" stroke-width="2"/>
<line x1="1183.6" y1="1227.88" x2="1188.8" y2="1227.88" stroke="#000" stroke-width="2"/>
<line x1="1183.6" y1="1236.31" x2="1188.8" y2="1236.31" stroke="#000" stroke-width="2"/>
<line x1="1179.4" y1="1244.74" x2="1188.8" y2="1244.74" stroke="#000" stroke-width="2.2"/>
<line x1="1183.6" y1="1253.17" x2="1188.8" y2="1253.17" stroke="#000" stroke-width="2"/>
<line x1="1183.6" y1="1261.6" x2="1188.8" y2="1261.6" stroke="#000" stroke-width="2"/>
<line x1="1183.6" y1="1270.02" x2="1188.8" y2="1270.02" stroke="#000" stroke-width="2"/>
<line x1="1183.6" y1="1278.45" x2="1188.8" y2="1278.45" stroke="#000" stroke-width="2"/>
<line x1="1179.4" y1="1286.88" x2="1188.8" y2="1286.88" stroke="#000" stroke-width="2.2"/>
<line x1="1183.6" y1="1295.31" x2="1188.8" y2="1295.31" stroke="#000" stroke-width="2"/>
<line x1="1183.6" y1="1303.74" x2="1188.8" y2="1303.74" stroke="#000" stroke-width="2"/>
<line x1="1183.6" y1="1312.16" x2="1188.8" y2="1312.16" stroke="#000" stroke-width="2"/>
<line x1="1183.6" y1="1320.59" x2="1188.8" y2="1320.59" stroke="#000" stroke-width="2"/>
<line x1="1179.4" y1="1329.02" x2="1188.8" y2="1329.02" stroke="#000" stroke-width="2.2"/>
<line x1="1183.6" y1="1337.45" x2="1188.8" y2="1337.45" stroke="#000" stroke-width="2"/>
<line x1="1183.6" y1="1345.88" x2="1188.8" y2="1345.88" stroke="#000" stroke-width="2"/>
<line x1="1183.6" y1="1354.3" x2="1188.8" y2="1354.3" stroke="#000" stroke-width="2"/>
<line x1="1183.6" y1="1362.73" x2="1188.8" y2="1362.73" stroke="#000" stroke-width="2"/>
<line x1="1179.4" y1="1371.16" x2="1188.8" y2="1371.16" stroke="#000" stroke-width="2.2"/>
<line x1="1183.6" y1="1379.59" x2="1188.8" y2="1379.59" stroke="#000" stroke-width="2"/>
<line x1="1183.6" y1="1388.02" x2="1188.8" y2="1388.02" stroke="#000" stroke-width="2"/>
<line x1="1183.6" y1="1396.44" x2="1188.8" y2="1396.44" stroke="#000" stroke-width="2"/>
<line x1="1183.6" y1="1404.87" x2="1188.8" y2="1404.87" stroke="#000" stroke-width="2"/>
<line x1="1179.4" y1="1413.3" x2="1188.8" y2="1413.3" stroke="#000" stroke-width="2.2"/>
<line x1="1188.8" y1="1414.9" x2="1188.8" y2="1422.9" stroke="#000" stroke-width="2.2"/>
<line x1="1212.82" y1="1414.9" x2="1212.82" y2="1419.5" stroke="#000" stroke-width="1.9"/>
<line x1="1226.87" y1="1414.9" x2="1226.87" y2="1419.5" stroke="#000" stroke-width="1.9"/>
<line x1="1236.84" y1="1414.9" x2="1236.84" y2="1419.5" stroke="#000" stroke-width="1.9"/>
<line x1="1244.58" y1="1414.9" x2="1244.58" y2="1419.5" stroke="#000" stroke-width="1.9"/>
<line x1="1250.9" y1="1414.9" x2="1250.9" y2="1419.5" stroke="#000" stroke-width="1.9"/>
<line x1="1256.24" y1="1414.9" x2="1256.24" y2="1419.5" stroke="#000" stroke-width="1.9"/>
<line x1="1260.87" y1="1414.9" x2="1260.87" y2="1419.5" stroke="#000" stroke-width="1.9"/>
<line x1="1264.95" y1="1414.9" x2="1264.95" y2="1419.5" stroke="#000" stroke-width="1.9"/>
<line x1="1268.6" y1="1414.9" x2="1268.6" y2="1422.9" stroke="#000" stroke-width="2.2"/>
<line x1="1292.68" y1="1414.9" x2="1292.68" y2="1419.5" stroke="#000" stroke-width="1.9"/>
<line x1="1306.77" y1="1414.9" x2="1306.77" y2="1419.5" stroke="#000" stroke-width="1.9"/>
<line x1="1316.76" y1="1414.9" x2="1316.76" y2="1419.5" stroke="#000" stroke-width="1.9"/>
<line x1="1324.52" y1="1414.9" x2="1324.52" y2="1419.5" stroke="#000" stroke-width="1.9"/>
<line x1="1330.85" y1="1414.9" x2="1330.85" y2="1419.5" stroke="#000" stroke-width="1.9"/>
<line x1="1336.21" y1="1414.9" x2="1336.21" y2="1419.5" stroke="#000" stroke-width="1.9"/>
<line x1="1340.85" y1="1414.9" x2="1340.85" y2="1419.5" stroke="#000" stroke-width="1.9"/>
<line x1="1344.94" y1="1414.9" x2="1344.94" y2="1419.5" stroke="#000" stroke-width="1.9"/>
<line x1="1348.6" y1="1414.9" x2="1348.6" y2="1422.9" stroke="#000" stroke-width="2.2"/>
<line x1="1372.68" y1="1414.9" x2="1372.68" y2="1419.5" stroke="#000" stroke-width="1.9"/>
<line x1="1386.77" y1="1414.9" x2="1386.77" y2="1419.5" stroke="#000" stroke-width="1.9"/>
<line x1="1396.76" y1="1414.9" x2="1396.76" y2="1419.5" stroke="#000" stroke-width="1.9"/>
<line x1="1404.52" y1="1414.9" x2="1404.52" y2="1419.5" stroke="#000" stroke-width="1.9"/>
<line x1="1410.85" y1="1414.9" x2="1410.85" y2="1419.5" stroke="#000" stroke-width="1.9"/>
<line x1="1416.21" y1="1414.9" x2="1416.21" y2="1419.5" stroke="#000" stroke-width="1.9"/>
<line x1="1420.85" y1="1414.9" x2="1420.85" y2="1419.5" stroke="#000" stroke-width="1.9"/>
<line x1="1424.94" y1="1414.9" x2="1424.94" y2="1419.5" stroke="#000" stroke-width="1.9"/>
<line x1="1428.6" y1="1414.9" x2="1428.6" y2="1422.9" stroke="#000" stroke-width="2.2"/>
<line x1="1452.32" y1="1414.9" x2="1452.32" y2="1419.5" stroke="#000" stroke-width="1.9"/>
<line x1="1466.2" y1="1414.9" x2="1466.2" y2="1419.5" stroke="#000" stroke-width="1.9"/>
<line x1="1476.04" y1="1414.9" x2="1476.04" y2="1419.5" stroke="#000" stroke-width="1.9"/>
<line x1="1483.68" y1="1414.9" x2="1483.68" y2="1419.5" stroke="#000" stroke-width="1.9"/>
<line x1="1489.92" y1="1414.9" x2="1489.92" y2="1419.5" stroke="#000" stroke-width="1.9"/>
<line x1="1495.19" y1="1414.9" x2="1495.19" y2="1419.5" stroke="#000" stroke-width="1.9"/>
<line x1="1499.76" y1="1414.9" x2="1499.76" y2="1419.5" stroke="#000" stroke-width="1.9"/>
<line x1="1503.79" y1="1414.9" x2="1503.79" y2="1419.5" stroke="#000" stroke-width="1.9"/>
<line x1="1507.4" y1="1414.9" x2="1507.4" y2="1422.9" stroke="#000" stroke-width="2.2"/>
<text transform="translate(1122.19 1211.05)" font-size="26.2">200</text>
<text transform="translate(1122.19 1253.19)" font-size="26.2">160</text>
<text transform="translate(1122.19 1295.33)" font-size="26.2">120</text>
<text transform="translate(1136.8 1337.47)" font-size="26.2">80</text>
<text transform="translate(1136.8 1379.61)" font-size="26.2">40</text>
<text transform="translate(1151.34 1421)" font-size="26.2">0</text>
<text transform="translate(1169.63 1452)" font-size="23.6">10</text>
<text transform="translate(1196.74 1442)" font-size="16.4">0</text>
<text transform="translate(1249.43 1452)" font-size="23.6">10</text>
<text transform="translate(1275.97 1442)" font-size="16.4">1</text>
<text transform="translate(1329.43 1452)" font-size="23.6">10</text>
<text transform="translate(1356.38 1442)" font-size="16.4">2</text>
<text transform="translate(1409.43 1452)" font-size="23.6">10</text>
<text transform="translate(1436.59 1442)" font-size="16.4">3</text>
<text transform="translate(1488.23 1452)" font-size="23.6">10</text>
<text transform="translate(1515.63 1442)" font-size="16.4">4</text>
<line x1="1107" y1="1193.5" x2="1107" y2="1451" stroke="#000" stroke-width="2.5"/>
<path d="M1096.2 1210.6 L1107 1192.6 L1117.8 1210.6" fill="none" stroke="#000" stroke-width="2.5" stroke-linejoin="miter"/>
<line x1="1128" y1="1467" x2="1509.2" y2="1467" stroke="#000" stroke-width="2.5"/>
<path d="M1492.2 1456.4 L1510.2 1467 L1492.2 1477.6" fill="none" stroke="#000" stroke-width="2.5" stroke-linejoin="miter"/>
<text transform="translate(1269.13 1175.2) scale(1.0400 1)" font-size="33.4">MDCK</text>
<text transform="translate(1087 1362.54) rotate(-90) scale(0.9483 1)" font-size="32.5">Counts</text>
<text transform="translate(1290.58 1501) scale(0.9130 1)" font-size="31">CLDN1</text>
<text transform="translate(402.6 1819.87) rotate(-90) scale(1.0947 1)" font-size="34">MFI</text>
<rect x="523.25" y="1827.25" width="60.5" height="133.95" fill="#fff" stroke="#000" stroke-width="2.5"/>
<rect x="595" y="1698" width="64" height="263.2" fill="#000"/>
<line x1="554.6" y1="1805" x2="554.6" y2="1827" stroke="#000" stroke-width="2.2"/>
<line x1="550.9" y1="1805.7" x2="558.3" y2="1805.7" stroke="#000" stroke-width="2"/>
<line x1="628" y1="1644" x2="628" y2="1699" stroke="#000" stroke-width="2.2"/>
<line x1="624.3" y1="1644.7" x2="631.7" y2="1644.7" stroke="#000" stroke-width="2"/>
<rect x="746.25" y="1821.25" width="61.5" height="139.95" fill="#fff" stroke="#000" stroke-width="2.5"/>
<rect x="820" y="1788" width="65" height="173.2" fill="#000"/>
<line x1="777" y1="1817.4" x2="777" y2="1821" stroke="#000" stroke-width="2.2"/>
<line x1="773.3" y1="1818.1" x2="780.7" y2="1818.1" stroke="#000" stroke-width="2"/>
<line x1="853" y1="1775" x2="853" y2="1789" stroke="#000" stroke-width="2.2"/>
<line x1="849.3" y1="1775.7" x2="856.7" y2="1775.7" stroke="#000" stroke-width="2"/>
<rect x="970.25" y="1827.55" width="61.5" height="133.65" fill="#fff" stroke="#000" stroke-width="2.5"/>
<rect x="1044.5" y="1702" width="65.3" height="259.2" fill="#000"/>
<line x1="1001.5" y1="1823" x2="1001.5" y2="1827.3" stroke="#000" stroke-width="2.2"/>
<line x1="997.8" y1="1823.7" x2="1005.2" y2="1823.7" stroke="#000" stroke-width="2"/>
<line x1="1076" y1="1623" x2="1076" y2="1703" stroke="#000" stroke-width="2.2"/>
<line x1="1072.3" y1="1623.7" x2="1079.7" y2="1623.7" stroke="#000" stroke-width="2"/>
<line x1="503" y1="1576.2" x2="503" y2="1962.5" stroke="#000" stroke-width="2.7"/>
<line x1="499" y1="1961.2" x2="1136" y2="1961.2" stroke="#000" stroke-width="2.7"/>
<line x1="498.6" y1="1577.4" x2="503" y2="1577.4" stroke="#000" stroke-width="2"/>
<line x1="498.6" y1="1673.35" x2="503" y2="1673.35" stroke="#000" stroke-width="2"/>
<line x1="498.6" y1="1769.3" x2="503" y2="1769.3" stroke="#000" stroke-width="2"/>
<line x1="498.6" y1="1865.25" x2="503" y2="1865.25" stroke="#000" stroke-width="2"/>
<text transform="translate(443.31 1588.3) scale(1.0300 1)" font-size="30.5">80</text>
<text transform="translate(443.31 1685.15) scale(1.0300 1)" font-size="30.5">60</text>
<text transform="translate(443.31 1781.1) scale(1.0300 1)" font-size="30.5">40</text>
<text transform="translate(443.31 1877.05) scale(1.0300 1)" font-size="30.5">20</text>
<text transform="translate(460.74 1973.8) scale(1.0300 1)" font-size="30.5">0</text>
<path d="M554.6 1785V1606H630V1632" fill="none" stroke="#333" stroke-width="1.4"/>
<text transform="translate(582.5 1604.11)" font-size="34" font-family="DejaVu Sans" stroke="#000" stroke-width="0.9">*</text>
<path d="M778 1786.5V1724.6H853V1751" fill="none" stroke="#333" stroke-width="1.4"/>
<text transform="translate(808.5 1716.51)" font-size="34" font-family="DejaVu Sans" stroke="#000" stroke-width="0.9">*</text>
<path d="M1001 1793V1588H1077V1605" fill="none" stroke="#333" stroke-width="1.4"/>
<text transform="translate(1030.5 1585.31)" font-size="34" font-family="DejaVu Sans" stroke="#000" stroke-width="0.9">*</text>
<rect x="1182.2" y="1735.2" width="24.4" height="17" fill="#fff" stroke="#000" stroke-width="2.4"/>
<rect x="1181" y="1775" width="26.6" height="18.6" fill="#000"/>
<text transform="translate(1218.85 1751.6) scale(1.0115 1)" font-size="31.5">mock</text>
<text transform="translate(1221.01 1796.4) scale(0.9179 1)" font-size="31.5">HAZV</text>
<text transform="translate(554.06 2005.2) scale(0.8857 1)" font-size="32">HeLa</text>
<text transform="translate(776.92 2005.2) scale(0.9836 1)" font-size="32">A549</text>
<text transform="translate(990.96 2005.2) scale(0.9254 1)" font-size="32">MDCK</text>
</g>
</svg>
</body></html>
